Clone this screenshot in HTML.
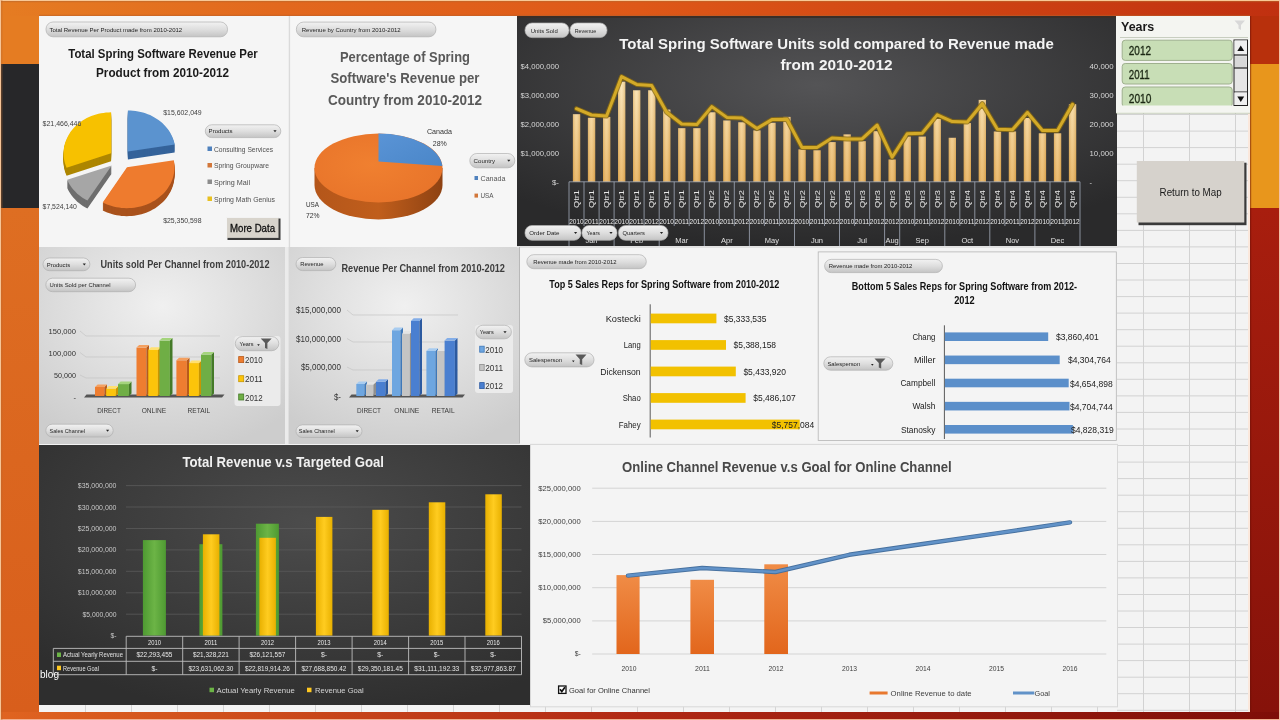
<!DOCTYPE html><html><head><meta charset="utf-8"><style>html,body{margin:0;padding:0;background:#f3f3f3;overflow:hidden;width:1280px;height:720px;}svg{display:block;}text{font-family:'Liberation Sans', Arial, sans-serif;}</style></head><body>
<svg width="1280" height="720" viewBox="0 0 1280 720">
<defs>
<linearGradient id="topband" x1="0" y1="0" x2="1" y2="0">
 <stop offset="0" stop-color="#e57c22"/><stop offset="0.22" stop-color="#e2681e"/><stop offset="0.5" stop-color="#de5818"/><stop offset="0.8" stop-color="#cc4012"/><stop offset="1" stop-color="#c03010"/>
</linearGradient>
<linearGradient id="botband" x1="0" y1="0" x2="1" y2="0">
 <stop offset="0" stop-color="#e06420"/><stop offset="0.5" stop-color="#b02814"/><stop offset="1" stop-color="#7e0e08"/>
</linearGradient>
<linearGradient id="leftlow" x1="0" y1="0" x2="0" y2="1">
 <stop offset="0" stop-color="#de6e22"/><stop offset="1" stop-color="#d85e1c"/>
</linearGradient>
<linearGradient id="rightlow" x1="0" y1="0" x2="0" y2="1">
 <stop offset="0" stop-color="#a81e0e"/><stop offset="1" stop-color="#86120a"/>
</linearGradient>
<linearGradient id="pillg" x1="0" y1="0" x2="0" y2="1">
 <stop offset="0" stop-color="#f2f2f2"/><stop offset="0.5" stop-color="#dedede"/><stop offset="1" stop-color="#c4c4c4"/>
</linearGradient>
<radialGradient id="darkg" cx="0.5" cy="0.3" r="0.7">
 <stop offset="0" stop-color="#545456"/><stop offset="1" stop-color="#2a2a2b"/>
</radialGradient>
<radialGradient id="dark8" cx="0.55" cy="0.3" r="0.75">
 <stop offset="0" stop-color="#4c4c4c"/><stop offset="1" stop-color="#2e2e2e"/>
</radialGradient>
<radialGradient id="grayg" cx="0.5" cy="0.3" r="0.75">
 <stop offset="0" stop-color="#f0f0f0"/><stop offset="1" stop-color="#cdcdcd"/>
</radialGradient>
<linearGradient id="barv" gradientUnits="userSpaceOnUse" x1="0" y1="80" x2="0" y2="182">
 <stop offset="0" stop-color="#fbe5b4"/><stop offset="1" stop-color="#e8b25c"/>
</linearGradient>
<linearGradient id="barh" x1="0" y1="0" x2="1" y2="0">
 <stop offset="0" stop-color="#a86a10" stop-opacity="0.28"/><stop offset="0.45" stop-color="#ffffff" stop-opacity="0.12"/><stop offset="1" stop-color="#a86a10" stop-opacity="0.3"/>
</linearGradient>
</defs>
<rect x="0" y="0" width="1280" height="720" fill="#f3f3f3"/>
<rect x="0" y="0" width="39" height="64" fill="#e57c22"/>
<rect x="0" y="64" width="39" height="144" fill="#272729"/>
<rect x="0" y="208" width="39" height="504" fill="url(#leftlow)"/>
<rect x="1250" y="0" width="30" height="64" fill="#b8300c"/>
<rect x="1250" y="64" width="30" height="144" fill="#e8961c"/>
<rect x="1250" y="208" width="30" height="504" fill="url(#rightlow)"/>
<rect x="1248" y="16" width="2" height="696" fill="#fbe8dc"/>
<rect x="0" y="0" width="1280" height="16" fill="url(#topband)"/>
<rect x="0" y="712" width="1280" height="8" fill="url(#botband)"/>
<rect x="0" y="0" width="1280" height="1" fill="#f8c896"/>
<rect x="0" y="1" width="1280" height="1.2" fill="#b8682e" opacity="0.55"/>
<rect x="39" y="14.8" width="1211" height="1.2" fill="#b8602a" opacity="0.5"/>
<rect x="0" y="719" width="1280" height="1" fill="#f0b090"/>
<rect x="0" y="0" width="1" height="720" fill="#f6c496"/>
<rect x="1" y="0" width="1.5" height="720" fill="#b86a30" opacity="0.35"/>
<rect x="1279" y="0" width="1" height="720" fill="#f4c0a8"/>
<rect x="1250" y="16" width="1.2" height="696" fill="#6a1008" opacity="0.5"/>
<g stroke="#d2d2d2" stroke-width="1">
<line x1="1117" y1="114.5" x2="1248" y2="114.5"/>
<line x1="1117" y1="131.1" x2="1248" y2="131.1"/>
<line x1="1117" y1="147.6" x2="1248" y2="147.6"/>
<line x1="1117" y1="164.2" x2="1248" y2="164.2"/>
<line x1="1117" y1="180.7" x2="1248" y2="180.7"/>
<line x1="1117" y1="197.3" x2="1248" y2="197.3"/>
<line x1="1117" y1="213.8" x2="1248" y2="213.8"/>
<line x1="1117" y1="230.4" x2="1248" y2="230.4"/>
<line x1="1117" y1="246.9" x2="1248" y2="246.9"/>
<line x1="1117" y1="263.5" x2="1248" y2="263.5"/>
<line x1="1117" y1="280.0" x2="1248" y2="280.0"/>
<line x1="1117" y1="296.6" x2="1248" y2="296.6"/>
<line x1="1117" y1="313.1" x2="1248" y2="313.1"/>
<line x1="1117" y1="329.7" x2="1248" y2="329.7"/>
<line x1="1117" y1="346.2" x2="1248" y2="346.2"/>
<line x1="1117" y1="362.8" x2="1248" y2="362.8"/>
<line x1="1117" y1="379.3" x2="1248" y2="379.3"/>
<line x1="1117" y1="395.9" x2="1248" y2="395.9"/>
<line x1="1117" y1="412.4" x2="1248" y2="412.4"/>
<line x1="1117" y1="429.0" x2="1248" y2="429.0"/>
<line x1="1117" y1="445.5" x2="1248" y2="445.5"/>
<line x1="1117" y1="462.1" x2="1248" y2="462.1"/>
<line x1="1117" y1="478.6" x2="1248" y2="478.6"/>
<line x1="1117" y1="495.2" x2="1248" y2="495.2"/>
<line x1="1117" y1="511.7" x2="1248" y2="511.7"/>
<line x1="1117" y1="528.3" x2="1248" y2="528.3"/>
<line x1="1117" y1="544.8" x2="1248" y2="544.8"/>
<line x1="1117" y1="561.4" x2="1248" y2="561.4"/>
<line x1="1117" y1="577.9" x2="1248" y2="577.9"/>
<line x1="1117" y1="594.5" x2="1248" y2="594.5"/>
<line x1="1117" y1="611.0" x2="1248" y2="611.0"/>
<line x1="1117" y1="627.5" x2="1248" y2="627.5"/>
<line x1="1117" y1="644.1" x2="1248" y2="644.1"/>
<line x1="1117" y1="660.6" x2="1248" y2="660.6"/>
<line x1="1117" y1="677.2" x2="1248" y2="677.2"/>
<line x1="1117" y1="693.7" x2="1248" y2="693.7"/>
<line x1="1117" y1="710.3" x2="1248" y2="710.3"/>
<line x1="1143.5" y1="113" x2="1143.5" y2="712"/>
<line x1="1189.5" y1="113" x2="1189.5" y2="712"/>
<line x1="1235.5" y1="113" x2="1235.5" y2="712"/>
</g>
<rect x="39" y="16" width="251" height="231" fill="#f5f5f5"/>
<line x1="289.5" y1="16" x2="289.5" y2="247" stroke="#dadada" stroke-width="1.5"/>
<rect x="46" y="22" width="181.5" height="14.8" rx="7" fill="url(#pillg)" stroke="#b0b0b0" stroke-width="0.7"/>
<text x="49.4" y="31.6" font-size="6" fill="#1e1e1e" text-anchor="start" textLength="132.8" lengthAdjust="spacingAndGlyphs">Total Revenue Per Product made from 2010-2012</text>
<text x="163" y="58" font-size="13.5" fill="#1a1a1a" font-weight="bold" text-anchor="middle" textLength="189.5" lengthAdjust="spacingAndGlyphs">Total Spring Software Revenue Per</text>
<text x="162.5" y="76.9" font-size="13.5" fill="#1a1a1a" font-weight="bold" text-anchor="middle" textLength="133" lengthAdjust="spacingAndGlyphs">Product from 2010-2012</text>
<path d="M127.9 151.4 L127.9 110.4 L130.5 110.5 L133.0 110.7 L135.6 110.9 L138.1 111.4 L140.6 111.9 L143.0 112.5 L145.4 113.3 L147.8 114.2 L150.1 115.1 L152.3 116.2 L154.5 117.4 L156.5 118.7 L158.5 120.1 L160.5 121.5 L162.3 123.1 L164.0 124.7 L165.6 126.5 L167.1 128.2 L168.5 130.1 L169.8 132.0 L170.9 134.0 L171.9 136.0 L172.8 138.1 L173.6 140.2 L174.2 142.3 L174.7 144.5 Z" fill="#35639a" transform="translate(0 8)"/>
<path d="M127.9 151.4 L127.9 110.4 L130.5 110.5 L133.0 110.7 L135.6 110.9 L138.1 111.4 L140.6 111.9 L143.0 112.5 L145.4 113.3 L147.8 114.2 L150.1 115.1 L152.3 116.2 L154.5 117.4 L156.5 118.7 L158.5 120.1 L160.5 121.5 L162.3 123.1 L164.0 124.7 L165.6 126.5 L167.1 128.2 L168.5 130.1 L169.8 132.0 L170.9 134.0 L171.9 136.0 L172.8 138.1 L173.6 140.2 L174.2 142.3 L174.7 144.5 Z" fill="#35639a" transform="translate(0 7)"/>
<path d="M127.9 151.4 L127.9 110.4 L130.5 110.5 L133.0 110.7 L135.6 110.9 L138.1 111.4 L140.6 111.9 L143.0 112.5 L145.4 113.3 L147.8 114.2 L150.1 115.1 L152.3 116.2 L154.5 117.4 L156.5 118.7 L158.5 120.1 L160.5 121.5 L162.3 123.1 L164.0 124.7 L165.6 126.5 L167.1 128.2 L168.5 130.1 L169.8 132.0 L170.9 134.0 L171.9 136.0 L172.8 138.1 L173.6 140.2 L174.2 142.3 L174.7 144.5 Z" fill="#35639a" transform="translate(0 6)"/>
<path d="M127.9 151.4 L127.9 110.4 L130.5 110.5 L133.0 110.7 L135.6 110.9 L138.1 111.4 L140.6 111.9 L143.0 112.5 L145.4 113.3 L147.8 114.2 L150.1 115.1 L152.3 116.2 L154.5 117.4 L156.5 118.7 L158.5 120.1 L160.5 121.5 L162.3 123.1 L164.0 124.7 L165.6 126.5 L167.1 128.2 L168.5 130.1 L169.8 132.0 L170.9 134.0 L171.9 136.0 L172.8 138.1 L173.6 140.2 L174.2 142.3 L174.7 144.5 Z" fill="#35639a" transform="translate(0 5)"/>
<path d="M127.9 151.4 L127.9 110.4 L130.5 110.5 L133.0 110.7 L135.6 110.9 L138.1 111.4 L140.6 111.9 L143.0 112.5 L145.4 113.3 L147.8 114.2 L150.1 115.1 L152.3 116.2 L154.5 117.4 L156.5 118.7 L158.5 120.1 L160.5 121.5 L162.3 123.1 L164.0 124.7 L165.6 126.5 L167.1 128.2 L168.5 130.1 L169.8 132.0 L170.9 134.0 L171.9 136.0 L172.8 138.1 L173.6 140.2 L174.2 142.3 L174.7 144.5 Z" fill="#35639a" transform="translate(0 4)"/>
<path d="M127.9 151.4 L127.9 110.4 L130.5 110.5 L133.0 110.7 L135.6 110.9 L138.1 111.4 L140.6 111.9 L143.0 112.5 L145.4 113.3 L147.8 114.2 L150.1 115.1 L152.3 116.2 L154.5 117.4 L156.5 118.7 L158.5 120.1 L160.5 121.5 L162.3 123.1 L164.0 124.7 L165.6 126.5 L167.1 128.2 L168.5 130.1 L169.8 132.0 L170.9 134.0 L171.9 136.0 L172.8 138.1 L173.6 140.2 L174.2 142.3 L174.7 144.5 Z" fill="#35639a" transform="translate(0 3)"/>
<path d="M127.9 151.4 L127.9 110.4 L130.5 110.5 L133.0 110.7 L135.6 110.9 L138.1 111.4 L140.6 111.9 L143.0 112.5 L145.4 113.3 L147.8 114.2 L150.1 115.1 L152.3 116.2 L154.5 117.4 L156.5 118.7 L158.5 120.1 L160.5 121.5 L162.3 123.1 L164.0 124.7 L165.6 126.5 L167.1 128.2 L168.5 130.1 L169.8 132.0 L170.9 134.0 L171.9 136.0 L172.8 138.1 L173.6 140.2 L174.2 142.3 L174.7 144.5 Z" fill="#35639a" transform="translate(0 2)"/>
<path d="M127.9 151.4 L127.9 110.4 L130.5 110.5 L133.0 110.7 L135.6 110.9 L138.1 111.4 L140.6 111.9 L143.0 112.5 L145.4 113.3 L147.8 114.2 L150.1 115.1 L152.3 116.2 L154.5 117.4 L156.5 118.7 L158.5 120.1 L160.5 121.5 L162.3 123.1 L164.0 124.7 L165.6 126.5 L167.1 128.2 L168.5 130.1 L169.8 132.0 L170.9 134.0 L171.9 136.0 L172.8 138.1 L173.6 140.2 L174.2 142.3 L174.7 144.5 Z" fill="#35639a" transform="translate(0 1)"/>
<path d="M127.9 151.4 L127.9 110.4 L130.5 110.5 L133.0 110.7 L135.6 110.9 L138.1 111.4 L140.6 111.9 L143.0 112.5 L145.4 113.3 L147.8 114.2 L150.1 115.1 L152.3 116.2 L154.5 117.4 L156.5 118.7 L158.5 120.1 L160.5 121.5 L162.3 123.1 L164.0 124.7 L165.6 126.5 L167.1 128.2 L168.5 130.1 L169.8 132.0 L170.9 134.0 L171.9 136.0 L172.8 138.1 L173.6 140.2 L174.2 142.3 L174.7 144.5 Z" fill="#5b93cf"/>
<path d="M111.1 153.3 L66.6 167.7 L65.7 165.6 L65.0 163.5 L64.5 161.4 L64.0 159.2 L63.7 157.0 L63.6 154.8 L63.6 152.6 L63.7 150.4 L63.9 148.2 L64.3 146.1 L64.8 143.9 L65.5 141.8 L66.3 139.7 L67.2 137.7 L68.2 135.7 L69.4 133.7 L70.6 131.8 L72.0 130.0 L73.5 128.2 L75.1 126.5 L76.9 124.9 L78.7 123.3 L80.6 121.9 L82.6 120.5 L84.7 119.3 L86.8 118.1 L89.0 117.0 L91.3 116.0 L93.7 115.2 L96.0 114.4 L98.5 113.8 L101.0 113.3 L103.5 112.9 L106.0 112.6 L108.5 112.4 L111.1 112.3 Z" fill="#ad8600" transform="translate(0 8)"/>
<path d="M111.1 153.3 L66.6 167.7 L65.7 165.6 L65.0 163.5 L64.5 161.4 L64.0 159.2 L63.7 157.0 L63.6 154.8 L63.6 152.6 L63.7 150.4 L63.9 148.2 L64.3 146.1 L64.8 143.9 L65.5 141.8 L66.3 139.7 L67.2 137.7 L68.2 135.7 L69.4 133.7 L70.6 131.8 L72.0 130.0 L73.5 128.2 L75.1 126.5 L76.9 124.9 L78.7 123.3 L80.6 121.9 L82.6 120.5 L84.7 119.3 L86.8 118.1 L89.0 117.0 L91.3 116.0 L93.7 115.2 L96.0 114.4 L98.5 113.8 L101.0 113.3 L103.5 112.9 L106.0 112.6 L108.5 112.4 L111.1 112.3 Z" fill="#ad8600" transform="translate(0 7)"/>
<path d="M111.1 153.3 L66.6 167.7 L65.7 165.6 L65.0 163.5 L64.5 161.4 L64.0 159.2 L63.7 157.0 L63.6 154.8 L63.6 152.6 L63.7 150.4 L63.9 148.2 L64.3 146.1 L64.8 143.9 L65.5 141.8 L66.3 139.7 L67.2 137.7 L68.2 135.7 L69.4 133.7 L70.6 131.8 L72.0 130.0 L73.5 128.2 L75.1 126.5 L76.9 124.9 L78.7 123.3 L80.6 121.9 L82.6 120.5 L84.7 119.3 L86.8 118.1 L89.0 117.0 L91.3 116.0 L93.7 115.2 L96.0 114.4 L98.5 113.8 L101.0 113.3 L103.5 112.9 L106.0 112.6 L108.5 112.4 L111.1 112.3 Z" fill="#ad8600" transform="translate(0 6)"/>
<path d="M111.1 153.3 L66.6 167.7 L65.7 165.6 L65.0 163.5 L64.5 161.4 L64.0 159.2 L63.7 157.0 L63.6 154.8 L63.6 152.6 L63.7 150.4 L63.9 148.2 L64.3 146.1 L64.8 143.9 L65.5 141.8 L66.3 139.7 L67.2 137.7 L68.2 135.7 L69.4 133.7 L70.6 131.8 L72.0 130.0 L73.5 128.2 L75.1 126.5 L76.9 124.9 L78.7 123.3 L80.6 121.9 L82.6 120.5 L84.7 119.3 L86.8 118.1 L89.0 117.0 L91.3 116.0 L93.7 115.2 L96.0 114.4 L98.5 113.8 L101.0 113.3 L103.5 112.9 L106.0 112.6 L108.5 112.4 L111.1 112.3 Z" fill="#ad8600" transform="translate(0 5)"/>
<path d="M111.1 153.3 L66.6 167.7 L65.7 165.6 L65.0 163.5 L64.5 161.4 L64.0 159.2 L63.7 157.0 L63.6 154.8 L63.6 152.6 L63.7 150.4 L63.9 148.2 L64.3 146.1 L64.8 143.9 L65.5 141.8 L66.3 139.7 L67.2 137.7 L68.2 135.7 L69.4 133.7 L70.6 131.8 L72.0 130.0 L73.5 128.2 L75.1 126.5 L76.9 124.9 L78.7 123.3 L80.6 121.9 L82.6 120.5 L84.7 119.3 L86.8 118.1 L89.0 117.0 L91.3 116.0 L93.7 115.2 L96.0 114.4 L98.5 113.8 L101.0 113.3 L103.5 112.9 L106.0 112.6 L108.5 112.4 L111.1 112.3 Z" fill="#ad8600" transform="translate(0 4)"/>
<path d="M111.1 153.3 L66.6 167.7 L65.7 165.6 L65.0 163.5 L64.5 161.4 L64.0 159.2 L63.7 157.0 L63.6 154.8 L63.6 152.6 L63.7 150.4 L63.9 148.2 L64.3 146.1 L64.8 143.9 L65.5 141.8 L66.3 139.7 L67.2 137.7 L68.2 135.7 L69.4 133.7 L70.6 131.8 L72.0 130.0 L73.5 128.2 L75.1 126.5 L76.9 124.9 L78.7 123.3 L80.6 121.9 L82.6 120.5 L84.7 119.3 L86.8 118.1 L89.0 117.0 L91.3 116.0 L93.7 115.2 L96.0 114.4 L98.5 113.8 L101.0 113.3 L103.5 112.9 L106.0 112.6 L108.5 112.4 L111.1 112.3 Z" fill="#ad8600" transform="translate(0 3)"/>
<path d="M111.1 153.3 L66.6 167.7 L65.7 165.6 L65.0 163.5 L64.5 161.4 L64.0 159.2 L63.7 157.0 L63.6 154.8 L63.6 152.6 L63.7 150.4 L63.9 148.2 L64.3 146.1 L64.8 143.9 L65.5 141.8 L66.3 139.7 L67.2 137.7 L68.2 135.7 L69.4 133.7 L70.6 131.8 L72.0 130.0 L73.5 128.2 L75.1 126.5 L76.9 124.9 L78.7 123.3 L80.6 121.9 L82.6 120.5 L84.7 119.3 L86.8 118.1 L89.0 117.0 L91.3 116.0 L93.7 115.2 L96.0 114.4 L98.5 113.8 L101.0 113.3 L103.5 112.9 L106.0 112.6 L108.5 112.4 L111.1 112.3 Z" fill="#ad8600" transform="translate(0 2)"/>
<path d="M111.1 153.3 L66.6 167.7 L65.7 165.6 L65.0 163.5 L64.5 161.4 L64.0 159.2 L63.7 157.0 L63.6 154.8 L63.6 152.6 L63.7 150.4 L63.9 148.2 L64.3 146.1 L64.8 143.9 L65.5 141.8 L66.3 139.7 L67.2 137.7 L68.2 135.7 L69.4 133.7 L70.6 131.8 L72.0 130.0 L73.5 128.2 L75.1 126.5 L76.9 124.9 L78.7 123.3 L80.6 121.9 L82.6 120.5 L84.7 119.3 L86.8 118.1 L89.0 117.0 L91.3 116.0 L93.7 115.2 L96.0 114.4 L98.5 113.8 L101.0 113.3 L103.5 112.9 L106.0 112.6 L108.5 112.4 L111.1 112.3 Z" fill="#ad8600" transform="translate(0 1)"/>
<path d="M111.1 153.3 L66.6 167.7 L65.7 165.6 L65.0 163.5 L64.5 161.4 L64.0 159.2 L63.7 157.0 L63.6 154.8 L63.6 152.6 L63.7 150.4 L63.9 148.2 L64.3 146.1 L64.8 143.9 L65.5 141.8 L66.3 139.7 L67.2 137.7 L68.2 135.7 L69.4 133.7 L70.6 131.8 L72.0 130.0 L73.5 128.2 L75.1 126.5 L76.9 124.9 L78.7 123.3 L80.6 121.9 L82.6 120.5 L84.7 119.3 L86.8 118.1 L89.0 117.0 L91.3 116.0 L93.7 115.2 L96.0 114.4 L98.5 113.8 L101.0 113.3 L103.5 112.9 L106.0 112.6 L108.5 112.4 L111.1 112.3 Z" fill="#f7c100"/>
<path d="M111.7 165.4 L87.4 200.6 L85.1 199.3 L82.9 198.0 L80.8 196.6 L78.9 195.0 L77.0 193.4 L75.2 191.6 L73.5 189.8 L72.0 187.9 L70.6 186.0 L69.3 183.9 L68.2 181.9 L67.2 179.7 Z" fill="#6e6e6e" transform="translate(0 8)"/>
<path d="M111.7 165.4 L87.4 200.6 L85.1 199.3 L82.9 198.0 L80.8 196.6 L78.9 195.0 L77.0 193.4 L75.2 191.6 L73.5 189.8 L72.0 187.9 L70.6 186.0 L69.3 183.9 L68.2 181.9 L67.2 179.7 Z" fill="#6e6e6e" transform="translate(0 7)"/>
<path d="M111.7 165.4 L87.4 200.6 L85.1 199.3 L82.9 198.0 L80.8 196.6 L78.9 195.0 L77.0 193.4 L75.2 191.6 L73.5 189.8 L72.0 187.9 L70.6 186.0 L69.3 183.9 L68.2 181.9 L67.2 179.7 Z" fill="#6e6e6e" transform="translate(0 6)"/>
<path d="M111.7 165.4 L87.4 200.6 L85.1 199.3 L82.9 198.0 L80.8 196.6 L78.9 195.0 L77.0 193.4 L75.2 191.6 L73.5 189.8 L72.0 187.9 L70.6 186.0 L69.3 183.9 L68.2 181.9 L67.2 179.7 Z" fill="#6e6e6e" transform="translate(0 5)"/>
<path d="M111.7 165.4 L87.4 200.6 L85.1 199.3 L82.9 198.0 L80.8 196.6 L78.9 195.0 L77.0 193.4 L75.2 191.6 L73.5 189.8 L72.0 187.9 L70.6 186.0 L69.3 183.9 L68.2 181.9 L67.2 179.7 Z" fill="#6e6e6e" transform="translate(0 4)"/>
<path d="M111.7 165.4 L87.4 200.6 L85.1 199.3 L82.9 198.0 L80.8 196.6 L78.9 195.0 L77.0 193.4 L75.2 191.6 L73.5 189.8 L72.0 187.9 L70.6 186.0 L69.3 183.9 L68.2 181.9 L67.2 179.7 Z" fill="#6e6e6e" transform="translate(0 3)"/>
<path d="M111.7 165.4 L87.4 200.6 L85.1 199.3 L82.9 198.0 L80.8 196.6 L78.9 195.0 L77.0 193.4 L75.2 191.6 L73.5 189.8 L72.0 187.9 L70.6 186.0 L69.3 183.9 L68.2 181.9 L67.2 179.7 Z" fill="#6e6e6e" transform="translate(0 2)"/>
<path d="M111.7 165.4 L87.4 200.6 L85.1 199.3 L82.9 198.0 L80.8 196.6 L78.9 195.0 L77.0 193.4 L75.2 191.6 L73.5 189.8 L72.0 187.9 L70.6 186.0 L69.3 183.9 L68.2 181.9 L67.2 179.7 Z" fill="#6e6e6e" transform="translate(0 1)"/>
<path d="M111.7 165.4 L87.4 200.6 L85.1 199.3 L82.9 198.0 L80.8 196.6 L78.9 195.0 L77.0 193.4 L75.2 191.6 L73.5 189.8 L72.0 187.9 L70.6 186.0 L69.3 183.9 L68.2 181.9 L67.2 179.7 Z" fill="#a6a6a6"/>
<path d="M127.0 167.2 L173.8 160.3 L174.2 162.4 L174.4 164.6 L174.5 166.8 L174.5 168.9 L174.3 171.1 L174.0 173.3 L173.5 175.4 L173.0 177.5 L172.3 179.6 L171.5 181.6 L170.5 183.7 L169.4 185.6 L168.2 187.5 L166.9 189.4 L165.5 191.2 L164.0 192.9 L162.4 194.6 L160.6 196.1 L158.8 197.6 L156.9 199.0 L154.9 200.4 L152.8 201.6 L150.7 202.7 L148.5 203.8 L146.2 204.7 L143.9 205.5 L141.5 206.2 L139.1 206.8 L136.6 207.3 L134.2 207.7 L131.7 208.0 L129.2 208.1 L126.6 208.2 L124.1 208.1 L121.6 207.9 L119.1 207.6 L116.7 207.2 L114.2 206.7 L111.8 206.0 L109.5 205.3 L107.1 204.4 L104.9 203.5 L102.7 202.4 Z" fill="#a9521c" transform="translate(0 8)"/>
<path d="M127.0 167.2 L173.8 160.3 L174.2 162.4 L174.4 164.6 L174.5 166.8 L174.5 168.9 L174.3 171.1 L174.0 173.3 L173.5 175.4 L173.0 177.5 L172.3 179.6 L171.5 181.6 L170.5 183.7 L169.4 185.6 L168.2 187.5 L166.9 189.4 L165.5 191.2 L164.0 192.9 L162.4 194.6 L160.6 196.1 L158.8 197.6 L156.9 199.0 L154.9 200.4 L152.8 201.6 L150.7 202.7 L148.5 203.8 L146.2 204.7 L143.9 205.5 L141.5 206.2 L139.1 206.8 L136.6 207.3 L134.2 207.7 L131.7 208.0 L129.2 208.1 L126.6 208.2 L124.1 208.1 L121.6 207.9 L119.1 207.6 L116.7 207.2 L114.2 206.7 L111.8 206.0 L109.5 205.3 L107.1 204.4 L104.9 203.5 L102.7 202.4 Z" fill="#a9521c" transform="translate(0 7)"/>
<path d="M127.0 167.2 L173.8 160.3 L174.2 162.4 L174.4 164.6 L174.5 166.8 L174.5 168.9 L174.3 171.1 L174.0 173.3 L173.5 175.4 L173.0 177.5 L172.3 179.6 L171.5 181.6 L170.5 183.7 L169.4 185.6 L168.2 187.5 L166.9 189.4 L165.5 191.2 L164.0 192.9 L162.4 194.6 L160.6 196.1 L158.8 197.6 L156.9 199.0 L154.9 200.4 L152.8 201.6 L150.7 202.7 L148.5 203.8 L146.2 204.7 L143.9 205.5 L141.5 206.2 L139.1 206.8 L136.6 207.3 L134.2 207.7 L131.7 208.0 L129.2 208.1 L126.6 208.2 L124.1 208.1 L121.6 207.9 L119.1 207.6 L116.7 207.2 L114.2 206.7 L111.8 206.0 L109.5 205.3 L107.1 204.4 L104.9 203.5 L102.7 202.4 Z" fill="#a9521c" transform="translate(0 6)"/>
<path d="M127.0 167.2 L173.8 160.3 L174.2 162.4 L174.4 164.6 L174.5 166.8 L174.5 168.9 L174.3 171.1 L174.0 173.3 L173.5 175.4 L173.0 177.5 L172.3 179.6 L171.5 181.6 L170.5 183.7 L169.4 185.6 L168.2 187.5 L166.9 189.4 L165.5 191.2 L164.0 192.9 L162.4 194.6 L160.6 196.1 L158.8 197.6 L156.9 199.0 L154.9 200.4 L152.8 201.6 L150.7 202.7 L148.5 203.8 L146.2 204.7 L143.9 205.5 L141.5 206.2 L139.1 206.8 L136.6 207.3 L134.2 207.7 L131.7 208.0 L129.2 208.1 L126.6 208.2 L124.1 208.1 L121.6 207.9 L119.1 207.6 L116.7 207.2 L114.2 206.7 L111.8 206.0 L109.5 205.3 L107.1 204.4 L104.9 203.5 L102.7 202.4 Z" fill="#a9521c" transform="translate(0 5)"/>
<path d="M127.0 167.2 L173.8 160.3 L174.2 162.4 L174.4 164.6 L174.5 166.8 L174.5 168.9 L174.3 171.1 L174.0 173.3 L173.5 175.4 L173.0 177.5 L172.3 179.6 L171.5 181.6 L170.5 183.7 L169.4 185.6 L168.2 187.5 L166.9 189.4 L165.5 191.2 L164.0 192.9 L162.4 194.6 L160.6 196.1 L158.8 197.6 L156.9 199.0 L154.9 200.4 L152.8 201.6 L150.7 202.7 L148.5 203.8 L146.2 204.7 L143.9 205.5 L141.5 206.2 L139.1 206.8 L136.6 207.3 L134.2 207.7 L131.7 208.0 L129.2 208.1 L126.6 208.2 L124.1 208.1 L121.6 207.9 L119.1 207.6 L116.7 207.2 L114.2 206.7 L111.8 206.0 L109.5 205.3 L107.1 204.4 L104.9 203.5 L102.7 202.4 Z" fill="#a9521c" transform="translate(0 4)"/>
<path d="M127.0 167.2 L173.8 160.3 L174.2 162.4 L174.4 164.6 L174.5 166.8 L174.5 168.9 L174.3 171.1 L174.0 173.3 L173.5 175.4 L173.0 177.5 L172.3 179.6 L171.5 181.6 L170.5 183.7 L169.4 185.6 L168.2 187.5 L166.9 189.4 L165.5 191.2 L164.0 192.9 L162.4 194.6 L160.6 196.1 L158.8 197.6 L156.9 199.0 L154.9 200.4 L152.8 201.6 L150.7 202.7 L148.5 203.8 L146.2 204.7 L143.9 205.5 L141.5 206.2 L139.1 206.8 L136.6 207.3 L134.2 207.7 L131.7 208.0 L129.2 208.1 L126.6 208.2 L124.1 208.1 L121.6 207.9 L119.1 207.6 L116.7 207.2 L114.2 206.7 L111.8 206.0 L109.5 205.3 L107.1 204.4 L104.9 203.5 L102.7 202.4 Z" fill="#a9521c" transform="translate(0 3)"/>
<path d="M127.0 167.2 L173.8 160.3 L174.2 162.4 L174.4 164.6 L174.5 166.8 L174.5 168.9 L174.3 171.1 L174.0 173.3 L173.5 175.4 L173.0 177.5 L172.3 179.6 L171.5 181.6 L170.5 183.7 L169.4 185.6 L168.2 187.5 L166.9 189.4 L165.5 191.2 L164.0 192.9 L162.4 194.6 L160.6 196.1 L158.8 197.6 L156.9 199.0 L154.9 200.4 L152.8 201.6 L150.7 202.7 L148.5 203.8 L146.2 204.7 L143.9 205.5 L141.5 206.2 L139.1 206.8 L136.6 207.3 L134.2 207.7 L131.7 208.0 L129.2 208.1 L126.6 208.2 L124.1 208.1 L121.6 207.9 L119.1 207.6 L116.7 207.2 L114.2 206.7 L111.8 206.0 L109.5 205.3 L107.1 204.4 L104.9 203.5 L102.7 202.4 Z" fill="#a9521c" transform="translate(0 2)"/>
<path d="M127.0 167.2 L173.8 160.3 L174.2 162.4 L174.4 164.6 L174.5 166.8 L174.5 168.9 L174.3 171.1 L174.0 173.3 L173.5 175.4 L173.0 177.5 L172.3 179.6 L171.5 181.6 L170.5 183.7 L169.4 185.6 L168.2 187.5 L166.9 189.4 L165.5 191.2 L164.0 192.9 L162.4 194.6 L160.6 196.1 L158.8 197.6 L156.9 199.0 L154.9 200.4 L152.8 201.6 L150.7 202.7 L148.5 203.8 L146.2 204.7 L143.9 205.5 L141.5 206.2 L139.1 206.8 L136.6 207.3 L134.2 207.7 L131.7 208.0 L129.2 208.1 L126.6 208.2 L124.1 208.1 L121.6 207.9 L119.1 207.6 L116.7 207.2 L114.2 206.7 L111.8 206.0 L109.5 205.3 L107.1 204.4 L104.9 203.5 L102.7 202.4 Z" fill="#a9521c" transform="translate(0 1)"/>
<path d="M127.0 167.2 L173.8 160.3 L174.2 162.4 L174.4 164.6 L174.5 166.8 L174.5 168.9 L174.3 171.1 L174.0 173.3 L173.5 175.4 L173.0 177.5 L172.3 179.6 L171.5 181.6 L170.5 183.7 L169.4 185.6 L168.2 187.5 L166.9 189.4 L165.5 191.2 L164.0 192.9 L162.4 194.6 L160.6 196.1 L158.8 197.6 L156.9 199.0 L154.9 200.4 L152.8 201.6 L150.7 202.7 L148.5 203.8 L146.2 204.7 L143.9 205.5 L141.5 206.2 L139.1 206.8 L136.6 207.3 L134.2 207.7 L131.7 208.0 L129.2 208.1 L126.6 208.2 L124.1 208.1 L121.6 207.9 L119.1 207.6 L116.7 207.2 L114.2 206.7 L111.8 206.0 L109.5 205.3 L107.1 204.4 L104.9 203.5 L102.7 202.4 Z" fill="#ee7b2e"/>
<text x="163.2" y="115" font-size="7" fill="#404040" text-anchor="start" textLength="38.5" lengthAdjust="spacingAndGlyphs">$15,602,049</text>
<text x="42.6" y="126" font-size="7" fill="#404040" text-anchor="start" textLength="38.8" lengthAdjust="spacingAndGlyphs">$21,466,446</text>
<text x="42.6" y="209" font-size="7" fill="#404040" text-anchor="start" textLength="34.3" lengthAdjust="spacingAndGlyphs">$7,524,140</text>
<text x="163.2" y="222.5" font-size="7" fill="#404040" text-anchor="start" textLength="38.3" lengthAdjust="spacingAndGlyphs">$25,350,598</text>
<rect x="205.3" y="124.8" width="75.5" height="12.8" rx="6.399999999999999" fill="url(#pillg)" stroke="#b0b0b0" stroke-width="0.7"/>
<text x="208.6" y="133.4" font-size="6" fill="#1e1e1e" text-anchor="start" textLength="24" lengthAdjust="spacingAndGlyphs">Products</text>
<path d="M273.4 130.3 L276.6 130.3 L275.0 132.3 Z" fill="#222"/>
<rect x="207.5" y="146.5" width="4.5" height="4.5" fill="#4f81bd"/>
<text x="214" y="151.6" font-size="7.2" fill="#505050" text-anchor="start" textLength="59" lengthAdjust="spacingAndGlyphs">Consulting Services</text>
<rect x="207.5" y="163.0" width="4.5" height="4.5" fill="#d2773a"/>
<text x="214" y="168.1" font-size="7.2" fill="#505050" text-anchor="start" textLength="55" lengthAdjust="spacingAndGlyphs">Spring Groupware</text>
<rect x="207.5" y="179.5" width="4.5" height="4.5" fill="#8c8c8c"/>
<text x="214" y="184.6" font-size="7.2" fill="#505050" text-anchor="start" textLength="36" lengthAdjust="spacingAndGlyphs">Spring Mail</text>
<rect x="207.5" y="196.5" width="4.5" height="4.5" fill="#e8c020"/>
<text x="214" y="201.6" font-size="7.2" fill="#505050" text-anchor="start" textLength="61" lengthAdjust="spacingAndGlyphs">Spring Math Genius</text>
<rect x="227.5" y="218.5" width="53" height="21.5" fill="#3a3a3a"/>
<rect x="226.5" y="217.4" width="52" height="20.5" fill="#d8d4cc"/>
<path d="M226.5 237.9 L226.5 217.4 L278.5 217.4" stroke="#f4f4f4" stroke-width="1" fill="none"/>
<text x="252.5" y="232" font-size="10.2" fill="#111" text-anchor="middle" textLength="45" lengthAdjust="spacingAndGlyphs" stroke="#111" stroke-width="0.3">More Data</text>
<rect x="290.3" y="16" width="226.7" height="231" fill="#f6f6f6"/>
<rect x="296.4" y="22.1" width="139.5" height="14.7" rx="7" fill="url(#pillg)" stroke="#b0b0b0" stroke-width="0.7"/>
<text x="301.7" y="31.6" font-size="6" fill="#1e1e1e" text-anchor="start" textLength="99" lengthAdjust="spacingAndGlyphs">Revenue by Country from 2010-2012</text>
<text x="405" y="61.5" font-size="14.2" fill="#595959" font-weight="bold" text-anchor="middle" textLength="130" lengthAdjust="spacingAndGlyphs">Percentage of Spring</text>
<text x="405" y="83.2" font-size="14.2" fill="#595959" font-weight="bold" text-anchor="middle" textLength="149" lengthAdjust="spacingAndGlyphs">Software's Revenue per</text>
<text x="405" y="104.9" font-size="14.2" fill="#595959" font-weight="bold" text-anchor="middle" textLength="154" lengthAdjust="spacingAndGlyphs">Country from 2010-2012</text>
<defs><linearGradient id="side2" x1="0" y1="0" x2="1" y2="0"><stop offset="0" stop-color="#b4561a"/><stop offset="0.5" stop-color="#c05e1c"/><stop offset="1" stop-color="#8e4212"/></linearGradient><radialGradient id="top2" cx="0.45" cy="0.45" r="0.6"><stop offset="0" stop-color="#f08030"/><stop offset="1" stop-color="#e8742a"/></radialGradient><linearGradient id="blue2" x1="0" y1="0" x2="1" y2="1"><stop offset="0" stop-color="#5a94d6"/><stop offset="1" stop-color="#4a86c8"/></linearGradient></defs>
<path d="M314.5 168 L314.5 185 A64 34.5 0 0 0 442.5 185 L442.5 168 Z" fill="url(#side2)"/>
<ellipse cx="378.5" cy="168" rx="64" ry="34.5" fill="url(#top2)"/>
<path d="M378.5 161.5 L378.5 133.5 A64 34.5 0 0 1 442.3 166 Z" fill="url(#blue2)"/>
<text x="439.4" y="134.3" font-size="7.5" fill="#333" text-anchor="middle" textLength="25" lengthAdjust="spacingAndGlyphs">Canada</text>
<text x="439.8" y="146.3" font-size="7.5" fill="#333" text-anchor="middle" textLength="14" lengthAdjust="spacingAndGlyphs">28%</text>
<text x="312.5" y="206.8" font-size="7.5" fill="#333" text-anchor="middle" textLength="13" lengthAdjust="spacingAndGlyphs">USA</text>
<text x="312.8" y="218" font-size="7.5" fill="#333" text-anchor="middle" textLength="13.5" lengthAdjust="spacingAndGlyphs">72%</text>
<rect x="469.8" y="153.5" width="45.0" height="14.3" rx="7" fill="url(#pillg)" stroke="#b0b0b0" stroke-width="0.7"/>
<text x="473.6" y="162.8" font-size="6" fill="#1e1e1e" text-anchor="start" textLength="21.4" lengthAdjust="spacingAndGlyphs">Country</text>
<path d="M507.2 159.8 L510.4 159.8 L508.8 161.8 Z" fill="#222"/>
<rect x="474.5" y="176" width="3.5" height="4" fill="#4f81bd"/>
<text x="480.5" y="180.5" font-size="6.5" fill="#555" text-anchor="start" textLength="25" lengthAdjust="spacingAndGlyphs">Canada</text>
<rect x="474.5" y="193.6" width="3.5" height="4" fill="#d2773a"/>
<text x="480.5" y="198" font-size="6.5" fill="#555" text-anchor="start" textLength="13" lengthAdjust="spacingAndGlyphs">USA</text>
<rect x="517" y="16" width="600" height="230" fill="url(#darkg)"/>
<rect x="517" y="16" width="600" height="2" fill="#3a2e28"/>
<rect x="525" y="23" width="44.0" height="14.6" rx="7" fill="url(#pillg)" stroke="#b0b0b0" stroke-width="0.7"/>
<text x="530.7" y="32.5" font-size="6" fill="#1e1e1e" text-anchor="start" textLength="27" lengthAdjust="spacingAndGlyphs">Units Sold</text>
<rect x="570" y="23" width="37.0" height="14.6" rx="7" fill="url(#pillg)" stroke="#b0b0b0" stroke-width="0.7"/>
<text x="574.7" y="32.5" font-size="6" fill="#1e1e1e" text-anchor="start" textLength="21.6" lengthAdjust="spacingAndGlyphs">Revenue</text>
<text x="836.5" y="48.8" font-size="14.2" fill="#f4f4f4" font-weight="bold" text-anchor="middle" textLength="434.5" lengthAdjust="spacingAndGlyphs">Total Spring Software Units sold compared to Revenue made</text>
<text x="836.5" y="70" font-size="14.2" fill="#f4f4f4" font-weight="bold" text-anchor="middle" textLength="112" lengthAdjust="spacingAndGlyphs">from 2010-2012</text>
<text x="559" y="69.0" font-size="7" fill="#d8d8d8" text-anchor="end" textLength="38.5" lengthAdjust="spacingAndGlyphs">$4,000,000</text>
<text x="559" y="98.1" font-size="7" fill="#d8d8d8" text-anchor="end" textLength="38.5" lengthAdjust="spacingAndGlyphs">$3,000,000</text>
<text x="559" y="127.2" font-size="7" fill="#d8d8d8" text-anchor="end" textLength="38.5" lengthAdjust="spacingAndGlyphs">$2,000,000</text>
<text x="559" y="156.3" font-size="7" fill="#d8d8d8" text-anchor="end" textLength="38.5" lengthAdjust="spacingAndGlyphs">$1,000,000</text>
<text x="559" y="185.4" font-size="7" fill="#d8d8d8" text-anchor="end" textLength="7" lengthAdjust="spacingAndGlyphs">$-</text>
<text x="1089.5" y="69.0" font-size="7" fill="#d8d8d8" text-anchor="start" textLength="24" lengthAdjust="spacingAndGlyphs">40,000</text>
<text x="1089.5" y="98.1" font-size="7" fill="#d8d8d8" text-anchor="start" textLength="24" lengthAdjust="spacingAndGlyphs">30,000</text>
<text x="1089.5" y="127.2" font-size="7" fill="#d8d8d8" text-anchor="start" textLength="24" lengthAdjust="spacingAndGlyphs">20,000</text>
<text x="1089.5" y="156.3" font-size="7" fill="#d8d8d8" text-anchor="start" textLength="24" lengthAdjust="spacingAndGlyphs">10,000</text>
<text x="1089.5" y="185.4" font-size="7" fill="#d8d8d8" text-anchor="start" textLength="2.5" lengthAdjust="spacingAndGlyphs">-</text>
<rect x="572.9" y="114.2" width="7.3" height="67.6" fill="url(#barv)"/>
<rect x="572.9" y="114.2" width="7.3" height="67.6" fill="url(#barh)"/>
<rect x="587.9" y="117.8" width="7.3" height="64.0" fill="url(#barv)"/>
<rect x="587.9" y="117.8" width="7.3" height="64.0" fill="url(#barh)"/>
<rect x="603.0" y="116.9" width="7.3" height="64.9" fill="url(#barv)"/>
<rect x="603.0" y="116.9" width="7.3" height="64.9" fill="url(#barh)"/>
<rect x="618.0" y="81.7" width="7.3" height="100.1" fill="url(#barv)"/>
<rect x="618.0" y="81.7" width="7.3" height="100.1" fill="url(#barh)"/>
<rect x="633.0" y="90.3" width="7.3" height="91.5" fill="url(#barv)"/>
<rect x="633.0" y="90.3" width="7.3" height="91.5" fill="url(#barh)"/>
<rect x="648.1" y="90.3" width="7.3" height="91.5" fill="url(#barv)"/>
<rect x="648.1" y="90.3" width="7.3" height="91.5" fill="url(#barh)"/>
<rect x="663.1" y="109.6" width="7.3" height="72.2" fill="url(#barv)"/>
<rect x="663.1" y="109.6" width="7.3" height="72.2" fill="url(#barh)"/>
<rect x="678.1" y="128.2" width="7.3" height="53.6" fill="url(#barv)"/>
<rect x="678.1" y="128.2" width="7.3" height="53.6" fill="url(#barh)"/>
<rect x="693.2" y="128.2" width="7.3" height="53.6" fill="url(#barv)"/>
<rect x="693.2" y="128.2" width="7.3" height="53.6" fill="url(#barh)"/>
<rect x="708.2" y="112.3" width="7.3" height="69.5" fill="url(#barv)"/>
<rect x="708.2" y="112.3" width="7.3" height="69.5" fill="url(#barh)"/>
<rect x="723.2" y="120.5" width="7.3" height="61.3" fill="url(#barv)"/>
<rect x="723.2" y="120.5" width="7.3" height="61.3" fill="url(#barh)"/>
<rect x="738.2" y="122.3" width="7.3" height="59.5" fill="url(#barv)"/>
<rect x="738.2" y="122.3" width="7.3" height="59.5" fill="url(#barh)"/>
<rect x="753.3" y="130.4" width="7.3" height="51.4" fill="url(#barv)"/>
<rect x="753.3" y="130.4" width="7.3" height="51.4" fill="url(#barh)"/>
<rect x="768.3" y="122.8" width="7.3" height="59.0" fill="url(#barv)"/>
<rect x="768.3" y="122.8" width="7.3" height="59.0" fill="url(#barh)"/>
<rect x="783.3" y="116.9" width="7.3" height="64.9" fill="url(#barv)"/>
<rect x="783.3" y="116.9" width="7.3" height="64.9" fill="url(#barh)"/>
<rect x="798.4" y="149.4" width="7.3" height="32.4" fill="url(#barv)"/>
<rect x="798.4" y="149.4" width="7.3" height="32.4" fill="url(#barh)"/>
<rect x="813.4" y="150.3" width="7.3" height="31.5" fill="url(#barv)"/>
<rect x="813.4" y="150.3" width="7.3" height="31.5" fill="url(#barh)"/>
<rect x="828.4" y="142.1" width="7.3" height="39.7" fill="url(#barv)"/>
<rect x="828.4" y="142.1" width="7.3" height="39.7" fill="url(#barh)"/>
<rect x="843.5" y="134.4" width="7.3" height="47.4" fill="url(#barv)"/>
<rect x="843.5" y="134.4" width="7.3" height="47.4" fill="url(#barh)"/>
<rect x="858.5" y="141.2" width="7.3" height="40.6" fill="url(#barv)"/>
<rect x="858.5" y="141.2" width="7.3" height="40.6" fill="url(#barh)"/>
<rect x="873.5" y="131.2" width="7.3" height="50.6" fill="url(#barv)"/>
<rect x="873.5" y="131.2" width="7.3" height="50.6" fill="url(#barh)"/>
<rect x="888.5" y="159.5" width="7.3" height="22.3" fill="url(#barv)"/>
<rect x="888.5" y="159.5" width="7.3" height="22.3" fill="url(#barh)"/>
<rect x="903.6" y="136.6" width="7.3" height="45.2" fill="url(#barv)"/>
<rect x="903.6" y="136.6" width="7.3" height="45.2" fill="url(#barh)"/>
<rect x="918.6" y="136.6" width="7.3" height="45.2" fill="url(#barv)"/>
<rect x="918.6" y="136.6" width="7.3" height="45.2" fill="url(#barh)"/>
<rect x="933.6" y="119" width="7.3" height="62.8" fill="url(#barv)"/>
<rect x="933.6" y="119" width="7.3" height="62.8" fill="url(#barh)"/>
<rect x="948.7" y="137.8" width="7.3" height="44.0" fill="url(#barv)"/>
<rect x="948.7" y="137.8" width="7.3" height="44.0" fill="url(#barh)"/>
<rect x="963.7" y="123.1" width="7.3" height="58.7" fill="url(#barv)"/>
<rect x="963.7" y="123.1" width="7.3" height="58.7" fill="url(#barh)"/>
<rect x="978.7" y="99.9" width="7.3" height="81.9" fill="url(#barv)"/>
<rect x="978.7" y="99.9" width="7.3" height="81.9" fill="url(#barh)"/>
<rect x="993.8" y="131.5" width="7.3" height="50.3" fill="url(#barv)"/>
<rect x="993.8" y="131.5" width="7.3" height="50.3" fill="url(#barh)"/>
<rect x="1008.8" y="131.5" width="7.3" height="50.3" fill="url(#barv)"/>
<rect x="1008.8" y="131.5" width="7.3" height="50.3" fill="url(#barh)"/>
<rect x="1023.8" y="118" width="7.3" height="63.8" fill="url(#barv)"/>
<rect x="1023.8" y="118" width="7.3" height="63.8" fill="url(#barh)"/>
<rect x="1038.8" y="133.3" width="7.3" height="48.5" fill="url(#barv)"/>
<rect x="1038.8" y="133.3" width="7.3" height="48.5" fill="url(#barh)"/>
<rect x="1053.9" y="133.3" width="7.3" height="48.5" fill="url(#barv)"/>
<rect x="1053.9" y="133.3" width="7.3" height="48.5" fill="url(#barh)"/>
<rect x="1068.9" y="104.2" width="7.3" height="77.6" fill="url(#barv)"/>
<rect x="1068.9" y="104.2" width="7.3" height="77.6" fill="url(#barh)"/>
<polyline points="576.5,108.7 591.5,115 606.6,116 621.6,76.6 636.6,84.4 651.7,85.6 666.7,112.3 681.7,124 696.8,124.6 711.8,106.6 726.8,117.4 741.8,118.1 756.9,128.6 771.9,119.6 786.9,119.2 802.0,147.5 817.0,147.5 832.0,138 847.1,138.9 862.1,138.9 877.1,125.1 892.1,157.2 907.2,133.8 922.2,133.2 937.2,114.9 952.3,121.6 967.3,122 982.3,103.7 997.4,129.2 1012.4,129.8 1027.4,112.5 1042.4,130.5 1057.5,130.5 1072.5,104.2" fill="none" stroke="#8a6a10" stroke-width="5" stroke-linejoin="round" stroke-linecap="round" opacity="0.8"/>
<polyline points="576.5,108.7 591.5,115 606.6,116 621.6,76.6 636.6,84.4 651.7,85.6 666.7,112.3 681.7,124 696.8,124.6 711.8,106.6 726.8,117.4 741.8,118.1 756.9,128.6 771.9,119.6 786.9,119.2 802.0,147.5 817.0,147.5 832.0,138 847.1,138.9 862.1,138.9 877.1,125.1 892.1,157.2 907.2,133.8 922.2,133.2 937.2,114.9 952.3,121.6 967.3,122 982.3,103.7 997.4,129.2 1012.4,129.8 1027.4,112.5 1042.4,130.5 1057.5,130.5 1072.5,104.2" fill="none" stroke="#d4aa28" stroke-width="3" stroke-linejoin="round" stroke-linecap="round"/>
<g stroke="#aab2c2" stroke-width="0.75">
<line x1="569" y1="181.8" x2="1080.0" y2="181.8"/>
<line x1="569.0" y1="181.8" x2="569.0" y2="246"/>
<line x1="584.0" y1="181.8" x2="584.0" y2="226"/>
<line x1="599.1" y1="181.8" x2="599.1" y2="226"/>
<line x1="614.1" y1="181.8" x2="614.1" y2="246"/>
<line x1="629.1" y1="181.8" x2="629.1" y2="226"/>
<line x1="644.1" y1="181.8" x2="644.1" y2="226"/>
<line x1="659.2" y1="181.8" x2="659.2" y2="246"/>
<line x1="674.2" y1="181.8" x2="674.2" y2="226"/>
<line x1="689.2" y1="181.8" x2="689.2" y2="226"/>
<line x1="704.3" y1="181.8" x2="704.3" y2="246"/>
<line x1="719.3" y1="181.8" x2="719.3" y2="226"/>
<line x1="734.3" y1="181.8" x2="734.3" y2="226"/>
<line x1="749.4" y1="181.8" x2="749.4" y2="246"/>
<line x1="764.4" y1="181.8" x2="764.4" y2="226"/>
<line x1="779.4" y1="181.8" x2="779.4" y2="226"/>
<line x1="794.5" y1="181.8" x2="794.5" y2="246"/>
<line x1="809.5" y1="181.8" x2="809.5" y2="226"/>
<line x1="824.5" y1="181.8" x2="824.5" y2="226"/>
<line x1="839.5" y1="181.8" x2="839.5" y2="246"/>
<line x1="854.6" y1="181.8" x2="854.6" y2="226"/>
<line x1="869.6" y1="181.8" x2="869.6" y2="226"/>
<line x1="884.6" y1="181.8" x2="884.6" y2="246"/>
<line x1="899.7" y1="181.8" x2="899.7" y2="246"/>
<line x1="914.7" y1="181.8" x2="914.7" y2="226"/>
<line x1="929.7" y1="181.8" x2="929.7" y2="226"/>
<line x1="944.8" y1="181.8" x2="944.8" y2="246"/>
<line x1="959.8" y1="181.8" x2="959.8" y2="226"/>
<line x1="974.8" y1="181.8" x2="974.8" y2="226"/>
<line x1="989.8" y1="181.8" x2="989.8" y2="246"/>
<line x1="1004.9" y1="181.8" x2="1004.9" y2="226"/>
<line x1="1019.9" y1="181.8" x2="1019.9" y2="226"/>
<line x1="1034.9" y1="181.8" x2="1034.9" y2="246"/>
<line x1="1050.0" y1="181.8" x2="1050.0" y2="226"/>
<line x1="1065.0" y1="181.8" x2="1065.0" y2="226"/>
<line x1="1080.0" y1="181.8" x2="1080.0" y2="246"/>
</g>
<text x="576.5" y="208" font-size="7" fill="#e8e8e8" transform="rotate(-90 576.5 208)" dy="2.6" textLength="18" lengthAdjust="spacingAndGlyphs">Qtr1</text>
<text x="576.5" y="224.2" font-size="7.2" fill="#ececec" text-anchor="middle" textLength="14.5" lengthAdjust="spacingAndGlyphs">2010</text>
<text x="591.5" y="208" font-size="7" fill="#e8e8e8" transform="rotate(-90 591.5 208)" dy="2.6" textLength="18" lengthAdjust="spacingAndGlyphs">Qtr1</text>
<text x="591.5" y="224.2" font-size="7.2" fill="#ececec" text-anchor="middle" textLength="14.5" lengthAdjust="spacingAndGlyphs">2011</text>
<text x="606.6" y="208" font-size="7" fill="#e8e8e8" transform="rotate(-90 606.6 208)" dy="2.6" textLength="18" lengthAdjust="spacingAndGlyphs">Qtr1</text>
<text x="606.6" y="224.2" font-size="7.2" fill="#ececec" text-anchor="middle" textLength="14.5" lengthAdjust="spacingAndGlyphs">2012</text>
<text x="621.6" y="208" font-size="7" fill="#e8e8e8" transform="rotate(-90 621.6 208)" dy="2.6" textLength="18" lengthAdjust="spacingAndGlyphs">Qtr1</text>
<text x="621.6" y="224.2" font-size="7.2" fill="#ececec" text-anchor="middle" textLength="14.5" lengthAdjust="spacingAndGlyphs">2010</text>
<text x="636.6" y="208" font-size="7" fill="#e8e8e8" transform="rotate(-90 636.6 208)" dy="2.6" textLength="18" lengthAdjust="spacingAndGlyphs">Qtr1</text>
<text x="636.6" y="224.2" font-size="7.2" fill="#ececec" text-anchor="middle" textLength="14.5" lengthAdjust="spacingAndGlyphs">2011</text>
<text x="651.7" y="208" font-size="7" fill="#e8e8e8" transform="rotate(-90 651.7 208)" dy="2.6" textLength="18" lengthAdjust="spacingAndGlyphs">Qtr1</text>
<text x="651.7" y="224.2" font-size="7.2" fill="#ececec" text-anchor="middle" textLength="14.5" lengthAdjust="spacingAndGlyphs">2012</text>
<text x="666.7" y="208" font-size="7" fill="#e8e8e8" transform="rotate(-90 666.7 208)" dy="2.6" textLength="18" lengthAdjust="spacingAndGlyphs">Qtr1</text>
<text x="666.7" y="224.2" font-size="7.2" fill="#ececec" text-anchor="middle" textLength="14.5" lengthAdjust="spacingAndGlyphs">2010</text>
<text x="681.7" y="208" font-size="7" fill="#e8e8e8" transform="rotate(-90 681.7 208)" dy="2.6" textLength="18" lengthAdjust="spacingAndGlyphs">Qtr1</text>
<text x="681.7" y="224.2" font-size="7.2" fill="#ececec" text-anchor="middle" textLength="14.5" lengthAdjust="spacingAndGlyphs">2011</text>
<text x="696.8" y="208" font-size="7" fill="#e8e8e8" transform="rotate(-90 696.8 208)" dy="2.6" textLength="18" lengthAdjust="spacingAndGlyphs">Qtr1</text>
<text x="696.8" y="224.2" font-size="7.2" fill="#ececec" text-anchor="middle" textLength="14.5" lengthAdjust="spacingAndGlyphs">2012</text>
<text x="711.8" y="208" font-size="7" fill="#e8e8e8" transform="rotate(-90 711.8 208)" dy="2.6" textLength="18" lengthAdjust="spacingAndGlyphs">Qtr2</text>
<text x="711.8" y="224.2" font-size="7.2" fill="#ececec" text-anchor="middle" textLength="14.5" lengthAdjust="spacingAndGlyphs">2010</text>
<text x="726.8" y="208" font-size="7" fill="#e8e8e8" transform="rotate(-90 726.8 208)" dy="2.6" textLength="18" lengthAdjust="spacingAndGlyphs">Qtr2</text>
<text x="726.8" y="224.2" font-size="7.2" fill="#ececec" text-anchor="middle" textLength="14.5" lengthAdjust="spacingAndGlyphs">2011</text>
<text x="741.8" y="208" font-size="7" fill="#e8e8e8" transform="rotate(-90 741.8 208)" dy="2.6" textLength="18" lengthAdjust="spacingAndGlyphs">Qtr2</text>
<text x="741.8" y="224.2" font-size="7.2" fill="#ececec" text-anchor="middle" textLength="14.5" lengthAdjust="spacingAndGlyphs">2012</text>
<text x="756.9" y="208" font-size="7" fill="#e8e8e8" transform="rotate(-90 756.9 208)" dy="2.6" textLength="18" lengthAdjust="spacingAndGlyphs">Qtr2</text>
<text x="756.9" y="224.2" font-size="7.2" fill="#ececec" text-anchor="middle" textLength="14.5" lengthAdjust="spacingAndGlyphs">2010</text>
<text x="771.9" y="208" font-size="7" fill="#e8e8e8" transform="rotate(-90 771.9 208)" dy="2.6" textLength="18" lengthAdjust="spacingAndGlyphs">Qtr2</text>
<text x="771.9" y="224.2" font-size="7.2" fill="#ececec" text-anchor="middle" textLength="14.5" lengthAdjust="spacingAndGlyphs">2011</text>
<text x="786.9" y="208" font-size="7" fill="#e8e8e8" transform="rotate(-90 786.9 208)" dy="2.6" textLength="18" lengthAdjust="spacingAndGlyphs">Qtr2</text>
<text x="786.9" y="224.2" font-size="7.2" fill="#ececec" text-anchor="middle" textLength="14.5" lengthAdjust="spacingAndGlyphs">2012</text>
<text x="802.0" y="208" font-size="7" fill="#e8e8e8" transform="rotate(-90 802.0 208)" dy="2.6" textLength="18" lengthAdjust="spacingAndGlyphs">Qtr2</text>
<text x="802.0" y="224.2" font-size="7.2" fill="#ececec" text-anchor="middle" textLength="14.5" lengthAdjust="spacingAndGlyphs">2010</text>
<text x="817.0" y="208" font-size="7" fill="#e8e8e8" transform="rotate(-90 817.0 208)" dy="2.6" textLength="18" lengthAdjust="spacingAndGlyphs">Qtr2</text>
<text x="817.0" y="224.2" font-size="7.2" fill="#ececec" text-anchor="middle" textLength="14.5" lengthAdjust="spacingAndGlyphs">2011</text>
<text x="832.0" y="208" font-size="7" fill="#e8e8e8" transform="rotate(-90 832.0 208)" dy="2.6" textLength="18" lengthAdjust="spacingAndGlyphs">Qtr2</text>
<text x="832.0" y="224.2" font-size="7.2" fill="#ececec" text-anchor="middle" textLength="14.5" lengthAdjust="spacingAndGlyphs">2012</text>
<text x="847.1" y="208" font-size="7" fill="#e8e8e8" transform="rotate(-90 847.1 208)" dy="2.6" textLength="18" lengthAdjust="spacingAndGlyphs">Qtr3</text>
<text x="847.1" y="224.2" font-size="7.2" fill="#ececec" text-anchor="middle" textLength="14.5" lengthAdjust="spacingAndGlyphs">2010</text>
<text x="862.1" y="208" font-size="7" fill="#e8e8e8" transform="rotate(-90 862.1 208)" dy="2.6" textLength="18" lengthAdjust="spacingAndGlyphs">Qtr3</text>
<text x="862.1" y="224.2" font-size="7.2" fill="#ececec" text-anchor="middle" textLength="14.5" lengthAdjust="spacingAndGlyphs">2011</text>
<text x="877.1" y="208" font-size="7" fill="#e8e8e8" transform="rotate(-90 877.1 208)" dy="2.6" textLength="18" lengthAdjust="spacingAndGlyphs">Qtr3</text>
<text x="877.1" y="224.2" font-size="7.2" fill="#ececec" text-anchor="middle" textLength="14.5" lengthAdjust="spacingAndGlyphs">2012</text>
<text x="892.1" y="208" font-size="7" fill="#e8e8e8" transform="rotate(-90 892.1 208)" dy="2.6" textLength="18" lengthAdjust="spacingAndGlyphs">Qtr3</text>
<text x="892.1" y="224.2" font-size="7.2" fill="#ececec" text-anchor="middle" textLength="14.5" lengthAdjust="spacingAndGlyphs">2012</text>
<text x="907.2" y="208" font-size="7" fill="#e8e8e8" transform="rotate(-90 907.2 208)" dy="2.6" textLength="18" lengthAdjust="spacingAndGlyphs">Qtr3</text>
<text x="907.2" y="224.2" font-size="7.2" fill="#ececec" text-anchor="middle" textLength="14.5" lengthAdjust="spacingAndGlyphs">2010</text>
<text x="922.2" y="208" font-size="7" fill="#e8e8e8" transform="rotate(-90 922.2 208)" dy="2.6" textLength="18" lengthAdjust="spacingAndGlyphs">Qtr3</text>
<text x="922.2" y="224.2" font-size="7.2" fill="#ececec" text-anchor="middle" textLength="14.5" lengthAdjust="spacingAndGlyphs">2011</text>
<text x="937.2" y="208" font-size="7" fill="#e8e8e8" transform="rotate(-90 937.2 208)" dy="2.6" textLength="18" lengthAdjust="spacingAndGlyphs">Qtr3</text>
<text x="937.2" y="224.2" font-size="7.2" fill="#ececec" text-anchor="middle" textLength="14.5" lengthAdjust="spacingAndGlyphs">2012</text>
<text x="952.3" y="208" font-size="7" fill="#e8e8e8" transform="rotate(-90 952.3 208)" dy="2.6" textLength="18" lengthAdjust="spacingAndGlyphs">Qtr4</text>
<text x="952.3" y="224.2" font-size="7.2" fill="#ececec" text-anchor="middle" textLength="14.5" lengthAdjust="spacingAndGlyphs">2010</text>
<text x="967.3" y="208" font-size="7" fill="#e8e8e8" transform="rotate(-90 967.3 208)" dy="2.6" textLength="18" lengthAdjust="spacingAndGlyphs">Qtr4</text>
<text x="967.3" y="224.2" font-size="7.2" fill="#ececec" text-anchor="middle" textLength="14.5" lengthAdjust="spacingAndGlyphs">2011</text>
<text x="982.3" y="208" font-size="7" fill="#e8e8e8" transform="rotate(-90 982.3 208)" dy="2.6" textLength="18" lengthAdjust="spacingAndGlyphs">Qtr4</text>
<text x="982.3" y="224.2" font-size="7.2" fill="#ececec" text-anchor="middle" textLength="14.5" lengthAdjust="spacingAndGlyphs">2012</text>
<text x="997.4" y="208" font-size="7" fill="#e8e8e8" transform="rotate(-90 997.4 208)" dy="2.6" textLength="18" lengthAdjust="spacingAndGlyphs">Qtr4</text>
<text x="997.4" y="224.2" font-size="7.2" fill="#ececec" text-anchor="middle" textLength="14.5" lengthAdjust="spacingAndGlyphs">2010</text>
<text x="1012.4" y="208" font-size="7" fill="#e8e8e8" transform="rotate(-90 1012.4 208)" dy="2.6" textLength="18" lengthAdjust="spacingAndGlyphs">Qtr4</text>
<text x="1012.4" y="224.2" font-size="7.2" fill="#ececec" text-anchor="middle" textLength="14.5" lengthAdjust="spacingAndGlyphs">2011</text>
<text x="1027.4" y="208" font-size="7" fill="#e8e8e8" transform="rotate(-90 1027.4 208)" dy="2.6" textLength="18" lengthAdjust="spacingAndGlyphs">Qtr4</text>
<text x="1027.4" y="224.2" font-size="7.2" fill="#ececec" text-anchor="middle" textLength="14.5" lengthAdjust="spacingAndGlyphs">2012</text>
<text x="1042.4" y="208" font-size="7" fill="#e8e8e8" transform="rotate(-90 1042.4 208)" dy="2.6" textLength="18" lengthAdjust="spacingAndGlyphs">Qtr4</text>
<text x="1042.4" y="224.2" font-size="7.2" fill="#ececec" text-anchor="middle" textLength="14.5" lengthAdjust="spacingAndGlyphs">2010</text>
<text x="1057.5" y="208" font-size="7" fill="#e8e8e8" transform="rotate(-90 1057.5 208)" dy="2.6" textLength="18" lengthAdjust="spacingAndGlyphs">Qtr4</text>
<text x="1057.5" y="224.2" font-size="7.2" fill="#ececec" text-anchor="middle" textLength="14.5" lengthAdjust="spacingAndGlyphs">2011</text>
<text x="1072.5" y="208" font-size="7" fill="#e8e8e8" transform="rotate(-90 1072.5 208)" dy="2.6" textLength="18" lengthAdjust="spacingAndGlyphs">Qtr4</text>
<text x="1072.5" y="224.2" font-size="7.2" fill="#ececec" text-anchor="middle" textLength="14.5" lengthAdjust="spacingAndGlyphs">2012</text>
<text x="591.5" y="243" font-size="7.5" fill="#e0e0e0" text-anchor="middle">Jan</text>
<text x="636.6" y="243" font-size="7.5" fill="#e0e0e0" text-anchor="middle">Feb</text>
<text x="681.7" y="243" font-size="7.5" fill="#e0e0e0" text-anchor="middle">Mar</text>
<text x="726.8" y="243" font-size="7.5" fill="#e0e0e0" text-anchor="middle">Apr</text>
<text x="771.9" y="243" font-size="7.5" fill="#e0e0e0" text-anchor="middle">May</text>
<text x="817.0" y="243" font-size="7.5" fill="#e0e0e0" text-anchor="middle">Jun</text>
<text x="862.1" y="243" font-size="7.5" fill="#e0e0e0" text-anchor="middle">Jul</text>
<text x="892.1" y="243" font-size="7.5" fill="#e0e0e0" text-anchor="middle">Aug</text>
<text x="922.2" y="243" font-size="7.5" fill="#e0e0e0" text-anchor="middle">Sep</text>
<text x="967.3" y="243" font-size="7.5" fill="#e0e0e0" text-anchor="middle">Oct</text>
<text x="1012.4" y="243" font-size="7.5" fill="#e0e0e0" text-anchor="middle">Nov</text>
<text x="1057.5" y="243" font-size="7.5" fill="#e0e0e0" text-anchor="middle">Dec</text>
<rect x="525" y="225.5" width="56.0" height="14.8" rx="7" fill="url(#pillg)" stroke="#b0b0b0" stroke-width="0.7"/>
<text x="529.2" y="235.1" font-size="6" fill="#1e1e1e" text-anchor="start" textLength="30.3" lengthAdjust="spacingAndGlyphs">Order Date</text>
<path d="M574.0 232.0 L577.2 232.0 L575.6 234.0 Z" fill="#222"/>
<rect x="582" y="225.5" width="35.0" height="14.8" rx="7" fill="url(#pillg)" stroke="#b0b0b0" stroke-width="0.7"/>
<text x="586.5" y="235.1" font-size="6" fill="#1e1e1e" text-anchor="start" textLength="13.3" lengthAdjust="spacingAndGlyphs">Years</text>
<path d="M609.4 232.0 L612.6 232.0 L611.0 234.0 Z" fill="#222"/>
<rect x="618.5" y="225.5" width="49.5" height="14.8" rx="7" fill="url(#pillg)" stroke="#b0b0b0" stroke-width="0.7"/>
<text x="622.5" y="235.1" font-size="6" fill="#1e1e1e" text-anchor="start" textLength="22.5" lengthAdjust="spacingAndGlyphs">Quarters</text>
<path d="M659.9 232.0 L663.1 232.0 L661.5 234.0 Z" fill="#222"/>
<rect x="1116" y="16" width="134" height="97" fill="#f4f5f1"/>
<line x1="1116" y1="112.8" x2="1250" y2="112.8" stroke="#b4c0a4" stroke-width="1.2"/>
<text x="1121" y="31.4" font-size="12" fill="#1a1a1a" font-weight="bold" text-anchor="start" textLength="33.3" lengthAdjust="spacingAndGlyphs">Years</text>
<path d="M1234.5 20.5 L1245 20.5 L1241 25 L1241 30 L1238.5 28.5 L1238.5 25 Z" fill="#d8d8d8"/>
<line x1="1120" y1="37.5" x2="1248" y2="37.5" stroke="#c8cec0" stroke-width="1"/>
<rect x="1122.2" y="40.2" width="110" height="20.199999999999996" rx="3" fill="#c8deb6" stroke="#9fb08e" stroke-width="1"/>
<text x="1128.8" y="55.3" font-size="13.3" fill="#1c2814" text-anchor="start" textLength="22.2" lengthAdjust="spacingAndGlyphs" stroke="#1c2814" stroke-width="0.35">2012</text>
<rect x="1122.2" y="63.5" width="110" height="20.5" rx="3" fill="#c8deb6" stroke="#9fb08e" stroke-width="1"/>
<text x="1128.8" y="78.7" font-size="13.3" fill="#1c2814" text-anchor="start" textLength="20.8" lengthAdjust="spacingAndGlyphs" stroke="#1c2814" stroke-width="0.35">2011</text>
<rect x="1122.2" y="87" width="110" height="20" rx="3" fill="#c8deb6" stroke="#9fb08e" stroke-width="1"/>
<text x="1128.8" y="102.7" font-size="13.3" fill="#1c2814" text-anchor="start" textLength="22.6" lengthAdjust="spacingAndGlyphs" stroke="#1c2814" stroke-width="0.35">2010</text>
<rect x="1116" y="105.5" width="134" height="7.3" fill="#f4f5f1"/>
<rect x="1234" y="40" width="13.5" height="65.5" fill="#e6e6e6"/>
<rect x="1234" y="40" width="13.5" height="65.5" fill="none" stroke="#202020" stroke-width="1"/>
<rect x="1234.5" y="40.5" width="12.5" height="14" fill="#efefef"/>
<line x1="1234" y1="55" x2="1247.5" y2="55" stroke="#202020" stroke-width="1.2"/>
<path d="M1237.3 51 L1244.2 51 L1240.75 45.5 Z" fill="#111"/>
<rect x="1235" y="56.5" width="11.5" height="11" fill="#d8d8d8"/>
<line x1="1234" y1="68" x2="1247.5" y2="68" stroke="#202020" stroke-width="1.2"/>
<line x1="1234" y1="92" x2="1247.5" y2="92" stroke="#202020" stroke-width="1"/>
<rect x="1234.5" y="92.5" width="12.5" height="12.5" fill="#efefef"/>
<path d="M1237.3 96.5 L1244.2 96.5 L1240.75 102 Z" fill="#111"/>
<rect x="1138.5" y="162.7" width="108" height="62.5" fill="#3a3a3a"/>
<rect x="1136.8" y="161" width="107.5" height="61.5" fill="#d6d2cc"/>
<text x="1190.6" y="196" font-size="10" fill="#1a1a1a" text-anchor="middle" textLength="62" lengthAdjust="spacingAndGlyphs">Return to Map</text>
<rect x="39" y="247" width="246" height="197" fill="url(#grayg)"/>
<rect x="285" y="247" width="3.5" height="197" fill="#ebebeb"/>
<rect x="43" y="258" width="46.9" height="12.7" rx="6.349999999999994" fill="url(#pillg)" stroke="#b0b0b0" stroke-width="0.7"/>
<text x="46.7" y="266.5" font-size="6" fill="#1e1e1e" text-anchor="start" textLength="23.5" lengthAdjust="spacingAndGlyphs">Products</text>
<path d="M82.7 263.5 L85.9 263.5 L84.3 265.5 Z" fill="#222"/>
<text x="185" y="268.4" font-size="10.2" fill="#3c3c3c" font-weight="bold" text-anchor="middle" textLength="169" lengthAdjust="spacingAndGlyphs">Units sold Per Channel from 2010-2012</text>
<rect x="45.8" y="278.2" width="89.8" height="13.5" rx="6.75" fill="url(#pillg)" stroke="#b0b0b0" stroke-width="0.7"/>
<text x="49.5" y="287.1" font-size="6" fill="#1e1e1e" text-anchor="start" textLength="61" lengthAdjust="spacingAndGlyphs">Units Sold per Channel</text>
<text x="76" y="334.40000000000003" font-size="8" fill="#333" text-anchor="end" textLength="27.4" lengthAdjust="spacingAndGlyphs">150,000</text>
<text x="76" y="355.7" font-size="8" fill="#333" text-anchor="end" textLength="27.4" lengthAdjust="spacingAndGlyphs">100,000</text>
<text x="76" y="378.2" font-size="8" fill="#333" text-anchor="end" textLength="22" lengthAdjust="spacingAndGlyphs">50,000</text>
<text x="76" y="399.8" font-size="8" fill="#333" text-anchor="end" textLength="2.5" lengthAdjust="spacingAndGlyphs">-</text>
<g stroke="#c4c4c4" stroke-width="0.7" fill="none"><path d="M80 331 L86 336 L220 336"/><path d="M80 352.5 L86 357 L220 357"/><path d="M80 375 L86 378 L220 378"/></g>
<path d="M84 397.5 L86.5 394.5 L224.5 394.5 L222 397.5 Z" fill="#555"/>
<rect x="95" y="387.0" width="9.4" height="9.0" fill="#ee7d30"/>
<path d="M104.4 387.0 L107 384.4 L107 393.4 L104.4 396 Z" fill="#b85a1a"/>
<path d="M95 387.0 L97.6 384.4 L107 384.4 L104.4 387.0 Z" fill="#f4a060"/>
<rect x="106.2" y="388.6" width="9.7" height="7.4" fill="#fcc40a"/>
<path d="M115.9 388.6 L118.5 386.0 L118.5 393.4 L115.9 396 Z" fill="#c89600"/>
<path d="M106.2 388.6 L108.8 386.0 L118.5 386.0 L115.9 388.6 Z" fill="#ffe070"/>
<rect x="118" y="384.1" width="10.9" height="11.9" fill="#6fae45"/>
<path d="M128.9 384.1 L131.5 381.5 L131.5 393.4 L128.9 396 Z" fill="#447a28"/>
<path d="M118 384.1 L120.6 381.5 L131.5 381.5 L128.9 384.1 Z" fill="#a4d47c"/>
<rect x="136.5" y="347.6" width="9.9" height="48.4" fill="#ee7d30"/>
<path d="M146.4 347.6 L149 345.0 L149 393.4 L146.4 396 Z" fill="#b85a1a"/>
<path d="M136.5 347.6 L139.1 345.0 L149 345.0 L146.4 347.6 Z" fill="#f4a060"/>
<rect x="148.3" y="349.90000000000003" width="9.6" height="46.1" fill="#fcc40a"/>
<path d="M157.9 349.90000000000003 L160.5 347.3 L160.5 393.4 L157.9 396 Z" fill="#c89600"/>
<path d="M148.3 349.90000000000003 L150.9 347.3 L160.5 347.3 L157.9 349.90000000000003 Z" fill="#ffe070"/>
<rect x="159.5" y="340.6" width="10.4" height="55.4" fill="#6fae45"/>
<path d="M169.9 340.6 L172.5 338.0 L172.5 393.4 L169.9 396 Z" fill="#447a28"/>
<path d="M159.5 340.6 L162.1 338.0 L172.5 338.0 L169.9 340.6 Z" fill="#a4d47c"/>
<rect x="176.4" y="360.3" width="10.5" height="35.7" fill="#ee7d30"/>
<path d="M186.9 360.3 L189.5 357.7 L189.5 393.4 L186.9 396 Z" fill="#b85a1a"/>
<path d="M176.4 360.3 L179.0 357.7 L189.5 357.7 L186.9 360.3 Z" fill="#f4a060"/>
<rect x="189" y="363.1" width="9.9" height="32.9" fill="#fcc40a"/>
<path d="M198.9 363.1 L201.5 360.5 L201.5 393.4 L198.9 396 Z" fill="#c89600"/>
<path d="M189 363.1 L191.6 360.5 L201.5 360.5 L198.9 363.1 Z" fill="#ffe070"/>
<rect x="201" y="354.6" width="10.4" height="41.4" fill="#6fae45"/>
<path d="M211.4 354.6 L214 352.0 L214 393.4 L211.4 396 Z" fill="#447a28"/>
<path d="M201 354.6 L203.6 352.0 L214 352.0 L211.4 354.6 Z" fill="#a4d47c"/>
<text x="109" y="412.5" font-size="8" fill="#3a3a3a" text-anchor="middle" textLength="23.6" lengthAdjust="spacingAndGlyphs">DIRECT</text>
<text x="154" y="412.5" font-size="8" fill="#3a3a3a" text-anchor="middle" textLength="24.5" lengthAdjust="spacingAndGlyphs">ONLINE</text>
<text x="198.8" y="412.5" font-size="8" fill="#3a3a3a" text-anchor="middle" textLength="22.5" lengthAdjust="spacingAndGlyphs">RETAIL</text>
<rect x="234.5" y="336" width="46" height="70" fill="#ebebeb" rx="3"/>
<rect x="235.3" y="336.6" width="43.5" height="14.1" rx="7" fill="url(#pillg)" stroke="#b0b0b0" stroke-width="0.7"/>
<text x="239.5" y="345.8" font-size="6" fill="#1e1e1e" text-anchor="start" textLength="14" lengthAdjust="spacingAndGlyphs">Years</text>
<path d="M260.7 338.4 L271.7 338.4 L267.4 343.1 L267.4 348.9 L265.0 347.9 L265.0 343.1 Z" fill="#5a5a5a"/>
<path d="M257.2 344.2 L259.8 344.2 L258.5 346.0 Z" fill="#222"/>
<rect x="238.7" y="356.6" width="5" height="6" fill="#ee7d30" stroke="#b85a1a" stroke-width="0.8"/>
<text x="245" y="363.1" font-size="9.5" fill="#333" text-anchor="start" textLength="17.7" lengthAdjust="spacingAndGlyphs">2010</text>
<rect x="238.7" y="375.7" width="5" height="6" fill="#fcc40a" stroke="#c89600" stroke-width="0.8"/>
<text x="245" y="382.2" font-size="9.5" fill="#333" text-anchor="start" textLength="17.7" lengthAdjust="spacingAndGlyphs">2011</text>
<rect x="238.7" y="394" width="5" height="6" fill="#6fae45" stroke="#447a28" stroke-width="0.8"/>
<text x="245" y="400.5" font-size="9.5" fill="#333" text-anchor="start" textLength="17.7" lengthAdjust="spacingAndGlyphs">2012</text>
<rect x="45.8" y="424.2" width="67.4" height="12.8" rx="6.400000000000006" fill="url(#pillg)" stroke="#b0b0b0" stroke-width="0.7"/>
<text x="49.5" y="432.8" font-size="6" fill="#1e1e1e" text-anchor="start" textLength="35.5" lengthAdjust="spacingAndGlyphs">Sales Channel</text>
<path d="M106.0 429.7 L109.2 429.7 L107.6 431.7 Z" fill="#222"/>
<rect x="288.5" y="247" width="231" height="197" fill="url(#grayg)"/>
<rect x="296" y="257.5" width="39.8" height="13.1" rx="6.550000000000011" fill="url(#pillg)" stroke="#b0b0b0" stroke-width="0.7"/>
<text x="300.2" y="266.2" font-size="6" fill="#1e1e1e" text-anchor="start" textLength="23.3" lengthAdjust="spacingAndGlyphs">Revenue</text>
<text x="423.2" y="272.2" font-size="10.2" fill="#3c3c3c" font-weight="bold" text-anchor="middle" textLength="163.5" lengthAdjust="spacingAndGlyphs">Revenue Per Channel from 2010-2012</text>
<text x="340.9" y="313.4" font-size="8.3" fill="#333" text-anchor="end" textLength="45" lengthAdjust="spacingAndGlyphs">$15,000,000</text>
<text x="340.9" y="341.7" font-size="8.3" fill="#333" text-anchor="end" textLength="45" lengthAdjust="spacingAndGlyphs">$10,000,000</text>
<text x="340.9" y="370.29999999999995" font-size="8.3" fill="#333" text-anchor="end" textLength="40" lengthAdjust="spacingAndGlyphs">$5,000,000</text>
<text x="340.9" y="399.7" font-size="8.3" fill="#333" text-anchor="end" textLength="7" lengthAdjust="spacingAndGlyphs">$-</text>
<g stroke="#c4c4c4" stroke-width="0.7" fill="none"><path d="M347 310 L353 315 L458 315"/><path d="M347 338.5 L353 342 L458 342"/><path d="M347 367 L353 370 L458 370"/></g>
<path d="M349 397.5 L351.5 394.5 L465 394.5 L462.5 397.5 Z" fill="#555"/>
<rect x="356.3" y="384.0" width="8.1" height="12.0" fill="#6ea6e0"/>
<path d="M364.4 384.0 L367 381.4 L367 393.4 L364.4 396 Z" fill="#3f78b8"/>
<path d="M356.3 384.0 L358.90000000000003 381.4 L367 381.4 L364.4 384.0 Z" fill="#a8ccf0"/>
<rect x="366" y="384.6" width="7.4" height="11.4" fill="#c4c4c4"/>
<path d="M373.4 384.6 L376 382.0 L376 393.4 L373.4 396 Z" fill="#8e8e8e"/>
<path d="M366 384.6 L368.6 382.0 L376 382.0 L373.4 384.6 Z" fill="#e4e4e4"/>
<rect x="376" y="381.8" width="9.4" height="14.2" fill="#4a7fd0"/>
<path d="M385.4 381.8 L388 379.2 L388 393.4 L385.4 396 Z" fill="#2c5aa0"/>
<path d="M376 381.8 L378.6 379.2 L388 379.2 L385.4 381.8 Z" fill="#84aee8"/>
<rect x="392" y="330.20000000000005" width="8.4" height="65.8" fill="#6ea6e0"/>
<path d="M400.4 330.20000000000005 L403 327.6 L403 393.4 L400.4 396 Z" fill="#3f78b8"/>
<path d="M392 330.20000000000005 L394.6 327.6 L403 327.6 L400.4 330.20000000000005 Z" fill="#a8ccf0"/>
<rect x="402" y="333.6" width="7.9" height="62.4" fill="#c4c4c4"/>
<path d="M409.9 333.6 L412.5 331.0 L412.5 393.4 L409.9 396 Z" fill="#8e8e8e"/>
<path d="M402 333.6 L404.6 331.0 L412.5 331.0 L409.9 333.6 Z" fill="#e4e4e4"/>
<rect x="411" y="320.90000000000003" width="8.4" height="75.1" fill="#4a7fd0"/>
<path d="M419.4 320.90000000000003 L422 318.3 L422 393.4 L419.4 396 Z" fill="#2c5aa0"/>
<path d="M411 320.90000000000003 L413.6 318.3 L422 318.3 L419.4 320.90000000000003 Z" fill="#84aee8"/>
<rect x="426.4" y="350.90000000000003" width="9.0" height="45.1" fill="#6ea6e0"/>
<path d="M435.4 350.90000000000003 L438 348.3 L438 393.4 L435.4 396 Z" fill="#3f78b8"/>
<path d="M426.4 350.90000000000003 L429.0 348.3 L438 348.3 L435.4 350.90000000000003 Z" fill="#a8ccf0"/>
<rect x="437" y="350.90000000000003" width="7.9" height="45.1" fill="#c4c4c4"/>
<path d="M444.9 350.90000000000003 L447.5 348.3 L447.5 393.4 L444.9 396 Z" fill="#8e8e8e"/>
<path d="M437 350.90000000000003 L439.6 348.3 L447.5 348.3 L444.9 350.90000000000003 Z" fill="#e4e4e4"/>
<rect x="444.6" y="340.6" width="10.3" height="55.4" fill="#4a7fd0"/>
<path d="M454.9 340.6 L457.5 338.0 L457.5 393.4 L454.9 396 Z" fill="#2c5aa0"/>
<path d="M444.6 340.6 L447.20000000000005 338.0 L457.5 338.0 L454.9 340.6 Z" fill="#84aee8"/>
<text x="369" y="412.5" font-size="8" fill="#3a3a3a" text-anchor="middle" textLength="24" lengthAdjust="spacingAndGlyphs">DIRECT</text>
<text x="406.8" y="412.5" font-size="8" fill="#3a3a3a" text-anchor="middle" textLength="25" lengthAdjust="spacingAndGlyphs">ONLINE</text>
<text x="443.2" y="412.5" font-size="8" fill="#3a3a3a" text-anchor="middle" textLength="23" lengthAdjust="spacingAndGlyphs">RETAIL</text>
<rect x="475" y="325" width="38" height="68" fill="#ebebeb" rx="3"/>
<rect x="476" y="325.3" width="35.4" height="13.5" rx="6.75" fill="url(#pillg)" stroke="#b0b0b0" stroke-width="0.7"/>
<text x="479.7" y="334.2" font-size="6" fill="#1e1e1e" text-anchor="start" textLength="14" lengthAdjust="spacingAndGlyphs">Years</text>
<path d="M503.4 331.2 L506.6 331.2 L505.0 333.2 Z" fill="#222"/>
<rect x="479.7" y="346.2" width="4.5" height="6" fill="#6ea6e0" stroke="#3f78b8" stroke-width="0.8"/>
<text x="485.3" y="352.7" font-size="9.5" fill="#333" text-anchor="start" textLength="17.7" lengthAdjust="spacingAndGlyphs">2010</text>
<rect x="479.7" y="364.4" width="4.5" height="6" fill="#c4c4c4" stroke="#8e8e8e" stroke-width="0.8"/>
<text x="485.3" y="370.9" font-size="9.5" fill="#333" text-anchor="start" textLength="17.7" lengthAdjust="spacingAndGlyphs">2011</text>
<rect x="479.7" y="382.6" width="4.5" height="6" fill="#4a7fd0" stroke="#2c5aa0" stroke-width="0.8"/>
<text x="485.3" y="389.1" font-size="9.5" fill="#333" text-anchor="start" textLength="17.7" lengthAdjust="spacingAndGlyphs">2012</text>
<rect x="296" y="424.9" width="66.0" height="12.6" rx="6.300000000000011" fill="url(#pillg)" stroke="#b0b0b0" stroke-width="0.7"/>
<text x="298.8" y="433.4" font-size="6" fill="#1e1e1e" text-anchor="start" textLength="36" lengthAdjust="spacingAndGlyphs">Sales Channel</text>
<path d="M355.6 430.3 L358.8 430.3 L357.2 432.3 Z" fill="#222"/>
<rect x="519.5" y="247" width="299" height="196.5" fill="#f4f4f4"/>
<rect x="517" y="246" width="601" height="2" fill="#e2e2e2"/>
<line x1="519.5" y1="247" x2="519.5" y2="443.5" stroke="#b8b8b8" stroke-width="1"/>
<rect x="526.8" y="254.7" width="119.5" height="14.0" rx="7.0" fill="url(#pillg)" stroke="#b0b0b0" stroke-width="0.7"/>
<text x="533.2" y="263.9" font-size="6" fill="#1e1e1e" text-anchor="start" textLength="83.3" lengthAdjust="spacingAndGlyphs">Revenue made from 2010-2012</text>
<text x="664.3" y="288.4" font-size="10.2" fill="#111" font-weight="bold" text-anchor="middle" textLength="230" lengthAdjust="spacingAndGlyphs">Top 5 Sales Reps for Spring Software from 2010-2012</text>
<line x1="650.2" y1="304.3" x2="650.2" y2="437.5" stroke="#5a5a5a" stroke-width="1"/>
<rect x="650.7" y="313.6" width="65.69999999999993" height="9.7" fill="#f2c100"/>
<text x="640.7" y="321.6" font-size="8.8" fill="#222" text-anchor="end" textLength="35" lengthAdjust="spacingAndGlyphs">Kostecki</text>
<text x="724.0" y="321.8" font-size="8.8" fill="#222" text-anchor="start" textLength="42.5" lengthAdjust="spacingAndGlyphs">$5,333,535</text>
<rect x="650.7" y="340.1" width="75.29999999999995" height="9.7" fill="#f2c100"/>
<text x="640.7" y="348.1" font-size="8.8" fill="#222" text-anchor="end" textLength="17" lengthAdjust="spacingAndGlyphs">Lang</text>
<text x="733.6" y="348.3" font-size="8.8" fill="#222" text-anchor="start" textLength="42.5" lengthAdjust="spacingAndGlyphs">$5,388,158</text>
<rect x="650.7" y="366.6" width="85.09999999999991" height="9.7" fill="#f2c100"/>
<text x="640.7" y="374.6" font-size="8.8" fill="#222" text-anchor="end" textLength="40.5" lengthAdjust="spacingAndGlyphs">Dickenson</text>
<text x="743.4" y="374.8" font-size="8.8" fill="#222" text-anchor="start" textLength="42.5" lengthAdjust="spacingAndGlyphs">$5,433,920</text>
<rect x="650.7" y="393.1" width="94.89999999999998" height="9.7" fill="#f2c100"/>
<text x="640.7" y="401.1" font-size="8.8" fill="#222" text-anchor="end" textLength="18" lengthAdjust="spacingAndGlyphs">Shao</text>
<text x="753.2" y="401.3" font-size="8.8" fill="#222" text-anchor="start" textLength="42.5" lengthAdjust="spacingAndGlyphs">$5,486,107</text>
<rect x="650.7" y="419.6" width="149.0" height="9.7" fill="#f2c100"/>
<text x="640.7" y="427.6" font-size="8.8" fill="#222" text-anchor="end" textLength="22" lengthAdjust="spacingAndGlyphs">Fahey</text>
<text x="771.7" y="427.8" font-size="8.8" fill="#222" text-anchor="start" textLength="42.5" lengthAdjust="spacingAndGlyphs">$5,757,084</text>
<rect x="524.8" y="352.8" width="69.2" height="14.1" rx="7" fill="url(#pillg)" stroke="#b0b0b0" stroke-width="0.7"/>
<text x="529" y="362.0" font-size="6" fill="#1e1e1e" text-anchor="start" textLength="33" lengthAdjust="spacingAndGlyphs">Salesperson</text>
<path d="M575.5 354.6 L586.5 354.6 L582.2 359.3 L582.2 365.1 L579.8 364.1 L579.8 359.3 Z" fill="#5a5a5a"/>
<path d="M572.0 360.4 L574.6 360.4 L573.3 362.2 Z" fill="#222"/>
<rect x="818.2" y="251.9" width="298.1" height="188.5" fill="#f4f4f4" stroke="#b4b4b4" stroke-width="0.8"/>
<rect x="824.6" y="259.4" width="117.8" height="13.2" rx="6.600000000000023" fill="url(#pillg)" stroke="#b0b0b0" stroke-width="0.7"/>
<text x="828.8" y="268.2" font-size="6" fill="#1e1e1e" text-anchor="start" textLength="83.6" lengthAdjust="spacingAndGlyphs">Revenue made from 2010-2012</text>
<text x="964.4" y="289.5" font-size="10.2" fill="#111" font-weight="bold" text-anchor="middle" textLength="225.2" lengthAdjust="spacingAndGlyphs">Bottom 5 Sales Reps for Spring Software from 2012-</text>
<text x="964.4" y="303.7" font-size="10.2" fill="#111" font-weight="bold" text-anchor="middle" textLength="20.5" lengthAdjust="spacingAndGlyphs">2012</text>
<line x1="944.4" y1="325.3" x2="944.4" y2="439" stroke="#5a5a5a" stroke-width="1"/>
<rect x="944.9" y="332.4" width="103.30000000000007" height="8.6" fill="#5b8fca"/>
<text x="935.4" y="339.9" font-size="8.8" fill="#222" text-anchor="end" textLength="23" lengthAdjust="spacingAndGlyphs">Chang</text>
<text x="1056" y="340.2" font-size="8.8" fill="#222" text-anchor="start" textLength="42.7" lengthAdjust="spacingAndGlyphs">$3,860,401</text>
<rect x="944.9" y="355.54999999999995" width="114.80000000000007" height="8.6" fill="#5b8fca"/>
<text x="935.4" y="363.04999999999995" font-size="8.8" fill="#222" text-anchor="end" textLength="21.5" lengthAdjust="spacingAndGlyphs">Miller</text>
<text x="1068" y="363.34999999999997" font-size="8.8" fill="#222" text-anchor="start" textLength="42.7" lengthAdjust="spacingAndGlyphs">$4,304,764</text>
<rect x="944.9" y="378.7" width="123.80000000000007" height="8.6" fill="#5b8fca"/>
<text x="935.4" y="386.2" font-size="8.8" fill="#222" text-anchor="end" textLength="35" lengthAdjust="spacingAndGlyphs">Campbell</text>
<text x="1070" y="386.5" font-size="8.8" fill="#222" text-anchor="start" textLength="42.7" lengthAdjust="spacingAndGlyphs">$4,654,898</text>
<rect x="944.9" y="401.84999999999997" width="124.60000000000002" height="8.6" fill="#5b8fca"/>
<text x="935.4" y="409.34999999999997" font-size="8.8" fill="#222" text-anchor="end" textLength="23" lengthAdjust="spacingAndGlyphs">Walsh</text>
<text x="1070" y="409.65" font-size="8.8" fill="#222" text-anchor="start" textLength="42.7" lengthAdjust="spacingAndGlyphs">$4,704,744</text>
<rect x="944.9" y="425.0" width="128.0000000000001" height="8.6" fill="#5b8fca"/>
<text x="935.4" y="432.5" font-size="8.8" fill="#222" text-anchor="end" textLength="34.5" lengthAdjust="spacingAndGlyphs">Stanosky</text>
<text x="1071" y="432.8" font-size="8.8" fill="#222" text-anchor="start" textLength="42.7" lengthAdjust="spacingAndGlyphs">$4,828,319</text>
<rect x="823.8" y="356.8" width="69.0" height="13.4" rx="6.699999999999989" fill="url(#pillg)" stroke="#b0b0b0" stroke-width="0.7"/>
<text x="827.4" y="365.7" font-size="6" fill="#1e1e1e" text-anchor="start" textLength="32.8" lengthAdjust="spacingAndGlyphs">Salesperson</text>
<path d="M874.5 358.6 L885.5 358.6 L881.2 363.0 L881.2 368.4 L878.8 367.4 L878.8 363.0 Z" fill="#5a5a5a"/>
<path d="M871.0 364.0 L873.6 364.0 L872.3 365.8 Z" fill="#222"/>
<defs><linearGradient id="grn" x1="0" y1="0" x2="1" y2="0"><stop offset="0" stop-color="#4e9a32"/><stop offset="0.5" stop-color="#6cb446"/><stop offset="1" stop-color="#4e9a32"/></linearGradient><linearGradient id="ylw" x1="0" y1="0" x2="1" y2="0"><stop offset="0" stop-color="#e8b000"/><stop offset="0.5" stop-color="#ffcc20"/><stop offset="1" stop-color="#e8b000"/></linearGradient><linearGradient id="org9" x1="0" y1="0" x2="0" y2="1"><stop offset="0" stop-color="#f08c46"/><stop offset="1" stop-color="#e2661c"/></linearGradient></defs>
<rect x="39" y="705" width="1078" height="7" fill="#f4f4f4"/>
<g stroke="#d4d4d4" stroke-width="1">
<line x1="85.5" y1="705" x2="85.5" y2="712"/>
<line x1="131.5" y1="705" x2="131.5" y2="712"/>
<line x1="177.5" y1="705" x2="177.5" y2="712"/>
<line x1="223.5" y1="705" x2="223.5" y2="712"/>
<line x1="269.5" y1="705" x2="269.5" y2="712"/>
<line x1="315.5" y1="705" x2="315.5" y2="712"/>
<line x1="361.5" y1="705" x2="361.5" y2="712"/>
<line x1="407.5" y1="705" x2="407.5" y2="712"/>
<line x1="453.5" y1="705" x2="453.5" y2="712"/>
<line x1="499.5" y1="705" x2="499.5" y2="712"/>
<line x1="545.5" y1="705" x2="545.5" y2="712"/>
<line x1="591.5" y1="705" x2="591.5" y2="712"/>
<line x1="637.5" y1="705" x2="637.5" y2="712"/>
<line x1="683.5" y1="705" x2="683.5" y2="712"/>
<line x1="729.5" y1="705" x2="729.5" y2="712"/>
<line x1="775.5" y1="705" x2="775.5" y2="712"/>
<line x1="821.5" y1="705" x2="821.5" y2="712"/>
<line x1="867.5" y1="705" x2="867.5" y2="712"/>
<line x1="913.5" y1="705" x2="913.5" y2="712"/>
<line x1="959.5" y1="705" x2="959.5" y2="712"/>
<line x1="1005.5" y1="705" x2="1005.5" y2="712"/>
<line x1="1051.5" y1="705" x2="1051.5" y2="712"/>
<line x1="1097.5" y1="705" x2="1097.5" y2="712"/>
</g>
<rect x="39" y="445" width="491" height="260" fill="url(#dark8)"/>
<text x="283.2" y="467.1" font-size="14.4" fill="#f0f0f0" font-weight="bold" text-anchor="middle" textLength="201.6" lengthAdjust="spacingAndGlyphs">Total Revenue v.s Targeted Goal</text>
<text x="116.5" y="488.1" font-size="7" fill="#c8c8c8" text-anchor="end" textLength="38.7" lengthAdjust="spacingAndGlyphs">$35,000,000</text>
<line x1="126" y1="485.6" x2="521.5" y2="485.6" stroke="#5a5a5a" stroke-width="0.8"/>
<text x="116.5" y="509.53000000000003" font-size="7" fill="#c8c8c8" text-anchor="end" textLength="38.7" lengthAdjust="spacingAndGlyphs">$30,000,000</text>
<line x1="126" y1="507.0" x2="521.5" y2="507.0" stroke="#5a5a5a" stroke-width="0.8"/>
<text x="116.5" y="530.96" font-size="7" fill="#c8c8c8" text-anchor="end" textLength="38.7" lengthAdjust="spacingAndGlyphs">$25,000,000</text>
<line x1="126" y1="528.5" x2="521.5" y2="528.5" stroke="#5a5a5a" stroke-width="0.8"/>
<text x="116.5" y="552.39" font-size="7" fill="#c8c8c8" text-anchor="end" textLength="38.7" lengthAdjust="spacingAndGlyphs">$20,000,000</text>
<line x1="126" y1="549.9" x2="521.5" y2="549.9" stroke="#5a5a5a" stroke-width="0.8"/>
<text x="116.5" y="573.82" font-size="7" fill="#c8c8c8" text-anchor="end" textLength="38.7" lengthAdjust="spacingAndGlyphs">$15,000,000</text>
<line x1="126" y1="571.3" x2="521.5" y2="571.3" stroke="#5a5a5a" stroke-width="0.8"/>
<text x="116.5" y="595.25" font-size="7" fill="#c8c8c8" text-anchor="end" textLength="38.7" lengthAdjust="spacingAndGlyphs">$10,000,000</text>
<line x1="126" y1="592.8" x2="521.5" y2="592.8" stroke="#5a5a5a" stroke-width="0.8"/>
<text x="116.5" y="616.6800000000001" font-size="7" fill="#c8c8c8" text-anchor="end" textLength="34" lengthAdjust="spacingAndGlyphs">$5,000,000</text>
<line x1="126" y1="614.2" x2="521.5" y2="614.2" stroke="#5a5a5a" stroke-width="0.8"/>
<text x="116.5" y="638.11" font-size="7" fill="#c8c8c8" text-anchor="end" textLength="6" lengthAdjust="spacingAndGlyphs">$-</text>
<rect x="142.9" y="540.1" width="23" height="95.5" fill="url(#grn)"/>
<rect x="199.4" y="544.2" width="23" height="91.4" fill="url(#grn)"/>
<rect x="202.9" y="534.3" width="16.5" height="101.3" fill="url(#ylw)"/>
<rect x="255.9" y="523.7" width="23" height="111.9" fill="url(#grn)"/>
<rect x="259.4" y="537.8" width="16.5" height="97.8" fill="url(#ylw)"/>
<rect x="315.9" y="516.9" width="16.5" height="118.7" fill="url(#ylw)"/>
<rect x="372.3" y="509.8" width="16.5" height="125.8" fill="url(#ylw)"/>
<rect x="428.8" y="502.3" width="16.5" height="133.3" fill="url(#ylw)"/>
<rect x="485.3" y="494.3" width="16.5" height="141.3" fill="url(#ylw)"/>
<g stroke="#bdbdbd" stroke-width="0.9" fill="none">
<path d="M126.2 636.3 L521.5 636.3 M53.3 648.4 L521.5 648.4 M53.3 661.3 L521.5 661.3 M53.3 674.7 L521.5 674.7 M53.3 648.4 L53.3 674.7"/>
<line x1="126.2" y1="636.3" x2="126.2" y2="674.7"/>
<line x1="182.7" y1="636.3" x2="182.7" y2="674.7"/>
<line x1="239.1" y1="636.3" x2="239.1" y2="674.7"/>
<line x1="295.6" y1="636.3" x2="295.6" y2="674.7"/>
<line x1="352.1" y1="636.3" x2="352.1" y2="674.7"/>
<line x1="408.6" y1="636.3" x2="408.6" y2="674.7"/>
<line x1="465.0" y1="636.3" x2="465.0" y2="674.7"/>
<line x1="521.5" y1="636.3" x2="521.5" y2="674.7"/>
</g>
<text x="154.4" y="644.8" font-size="6.3" fill="#e8e8e8" text-anchor="middle" textLength="13" lengthAdjust="spacingAndGlyphs">2010</text>
<text x="154.4" y="657.3" font-size="6.3" fill="#e8e8e8" text-anchor="middle" textLength="36" lengthAdjust="spacingAndGlyphs">$22,293,455</text>
<text x="154.4" y="670.6" font-size="6.3" fill="#e8e8e8" text-anchor="middle" textLength="6" lengthAdjust="spacingAndGlyphs">$-</text>
<text x="210.9" y="644.8" font-size="6.3" fill="#e8e8e8" text-anchor="middle" textLength="13" lengthAdjust="spacingAndGlyphs">2011</text>
<text x="210.9" y="657.3" font-size="6.3" fill="#e8e8e8" text-anchor="middle" textLength="36" lengthAdjust="spacingAndGlyphs">$21,328,221</text>
<text x="210.9" y="670.6" font-size="6.3" fill="#e8e8e8" text-anchor="middle" textLength="45" lengthAdjust="spacingAndGlyphs">$23,631,062.30</text>
<text x="267.4" y="644.8" font-size="6.3" fill="#e8e8e8" text-anchor="middle" textLength="13" lengthAdjust="spacingAndGlyphs">2012</text>
<text x="267.4" y="657.3" font-size="6.3" fill="#e8e8e8" text-anchor="middle" textLength="36" lengthAdjust="spacingAndGlyphs">$26,121,557</text>
<text x="267.4" y="670.6" font-size="6.3" fill="#e8e8e8" text-anchor="middle" textLength="45" lengthAdjust="spacingAndGlyphs">$22,819,914.26</text>
<text x="323.9" y="644.8" font-size="6.3" fill="#e8e8e8" text-anchor="middle" textLength="13" lengthAdjust="spacingAndGlyphs">2013</text>
<text x="323.9" y="657.3" font-size="6.3" fill="#e8e8e8" text-anchor="middle" textLength="6" lengthAdjust="spacingAndGlyphs">$-</text>
<text x="323.9" y="670.6" font-size="6.3" fill="#e8e8e8" text-anchor="middle" textLength="45" lengthAdjust="spacingAndGlyphs">$27,688,850.42</text>
<text x="380.3" y="644.8" font-size="6.3" fill="#e8e8e8" text-anchor="middle" textLength="13" lengthAdjust="spacingAndGlyphs">2014</text>
<text x="380.3" y="657.3" font-size="6.3" fill="#e8e8e8" text-anchor="middle" textLength="6" lengthAdjust="spacingAndGlyphs">$-</text>
<text x="380.3" y="670.6" font-size="6.3" fill="#e8e8e8" text-anchor="middle" textLength="45" lengthAdjust="spacingAndGlyphs">$29,350,181.45</text>
<text x="436.8" y="644.8" font-size="6.3" fill="#e8e8e8" text-anchor="middle" textLength="13" lengthAdjust="spacingAndGlyphs">2015</text>
<text x="436.8" y="657.3" font-size="6.3" fill="#e8e8e8" text-anchor="middle" textLength="6" lengthAdjust="spacingAndGlyphs">$-</text>
<text x="436.8" y="670.6" font-size="6.3" fill="#e8e8e8" text-anchor="middle" textLength="45" lengthAdjust="spacingAndGlyphs">$31,111,192.33</text>
<text x="493.3" y="644.8" font-size="6.3" fill="#e8e8e8" text-anchor="middle" textLength="13" lengthAdjust="spacingAndGlyphs">2016</text>
<text x="493.3" y="657.3" font-size="6.3" fill="#e8e8e8" text-anchor="middle" textLength="6" lengthAdjust="spacingAndGlyphs">$-</text>
<text x="493.3" y="670.6" font-size="6.3" fill="#e8e8e8" text-anchor="middle" textLength="45" lengthAdjust="spacingAndGlyphs">$32,977,863.87</text>
<rect x="57" y="652.5" width="4" height="4.5" fill="#6cb446"/>
<text x="63" y="657.3" font-size="6.3" fill="#e0e0e0" text-anchor="start" textLength="60" lengthAdjust="spacingAndGlyphs">Actual Yearly Revenue</text>
<rect x="57" y="665.7" width="4" height="4.5" fill="#ffc820"/>
<text x="63" y="670.6" font-size="6.3" fill="#e0e0e0" text-anchor="start" textLength="36" lengthAdjust="spacingAndGlyphs">Revenue Goal</text>
<rect x="209.5" y="687.7" width="4.5" height="4.5" fill="#6cb446"/>
<text x="216.5" y="692.7" font-size="7.5" fill="#d4d4d4" text-anchor="start" textLength="78.3" lengthAdjust="spacingAndGlyphs">Actual Yearly Revenue</text>
<rect x="307" y="687.7" width="4.5" height="4.5" fill="#ffc820"/>
<text x="315" y="692.7" font-size="7.5" fill="#d4d4d4" text-anchor="start" textLength="48.8" lengthAdjust="spacingAndGlyphs">Revenue Goal</text>
<text x="40" y="678.2" font-size="10" fill="#ffffff" text-anchor="start" textLength="19" lengthAdjust="spacingAndGlyphs">blog</text>
<rect x="530.5" y="444.4" width="587" height="262.4" fill="#f4f4f4" stroke="#d8d8d8" stroke-width="1"/>
<text x="786.9" y="471.8" font-size="15.2" fill="#484848" font-weight="bold" text-anchor="middle" textLength="329.6" lengthAdjust="spacingAndGlyphs">Online Channel Revenue v.s Goal for Online Channel</text>
<text x="580.7" y="490.59999999999997" font-size="6.5" fill="#404040" text-anchor="end" textLength="42.4" lengthAdjust="spacingAndGlyphs">$25,000,000</text>
<line x1="592.2" y1="488.2" x2="1106.3" y2="488.2" stroke="#d4d4d4" stroke-width="1"/>
<text x="580.7" y="523.77" font-size="6.5" fill="#404040" text-anchor="end" textLength="42.4" lengthAdjust="spacingAndGlyphs">$20,000,000</text>
<line x1="592.2" y1="521.4" x2="1106.3" y2="521.4" stroke="#d4d4d4" stroke-width="1"/>
<text x="580.7" y="556.9399999999999" font-size="6.5" fill="#404040" text-anchor="end" textLength="42.4" lengthAdjust="spacingAndGlyphs">$15,000,000</text>
<line x1="592.2" y1="554.5" x2="1106.3" y2="554.5" stroke="#d4d4d4" stroke-width="1"/>
<text x="580.7" y="590.11" font-size="6.5" fill="#404040" text-anchor="end" textLength="42.4" lengthAdjust="spacingAndGlyphs">$10,000,000</text>
<line x1="592.2" y1="587.7" x2="1106.3" y2="587.7" stroke="#d4d4d4" stroke-width="1"/>
<text x="580.7" y="623.28" font-size="6.5" fill="#404040" text-anchor="end" textLength="38" lengthAdjust="spacingAndGlyphs">$5,000,000</text>
<line x1="592.2" y1="620.9" x2="1106.3" y2="620.9" stroke="#d4d4d4" stroke-width="1"/>
<text x="580.7" y="656.4499999999999" font-size="6.5" fill="#404040" text-anchor="end" textLength="6" lengthAdjust="spacingAndGlyphs">$-</text>
<line x1="592.2" y1="654.0" x2="1106.3" y2="654.0" stroke="#d4d4d4" stroke-width="1"/>
<rect x="616.5" y="575.1" width="23.1" height="78.9" fill="url(#org9)"/>
<rect x="690.4" y="579.8" width="23.6" height="74.2" fill="url(#org9)"/>
<rect x="764.3" y="564.3" width="23.7" height="89.7" fill="url(#org9)"/>
<polyline points="628,575.6 702.2,568 775.4,572 849.2,554.8 922.8,544 996.4,533.4 1070,522.4" fill="none" stroke="#46709e" stroke-width="4.4" stroke-linejoin="round" stroke-linecap="round"/>
<polyline points="628,575.6 702.2,568 775.4,572 849.2,554.8 922.8,544 996.4,533.4 1070,522.4" fill="none" stroke="#6192c8" stroke-width="2.6" stroke-linejoin="round" stroke-linecap="round"/>
<text x="629.0" y="670.5" font-size="7" fill="#404040" text-anchor="middle" textLength="15" lengthAdjust="spacingAndGlyphs">2010</text>
<text x="702.5" y="670.5" font-size="7" fill="#404040" text-anchor="middle" textLength="15" lengthAdjust="spacingAndGlyphs">2011</text>
<text x="776.0" y="670.5" font-size="7" fill="#404040" text-anchor="middle" textLength="15" lengthAdjust="spacingAndGlyphs">2012</text>
<text x="849.5" y="670.5" font-size="7" fill="#404040" text-anchor="middle" textLength="15" lengthAdjust="spacingAndGlyphs">2013</text>
<text x="923.0" y="670.5" font-size="7" fill="#404040" text-anchor="middle" textLength="15" lengthAdjust="spacingAndGlyphs">2014</text>
<text x="996.5" y="670.5" font-size="7" fill="#404040" text-anchor="middle" textLength="15" lengthAdjust="spacingAndGlyphs">2015</text>
<text x="1070.0" y="670.5" font-size="7" fill="#404040" text-anchor="middle" textLength="15" lengthAdjust="spacingAndGlyphs">2016</text>
<rect x="558.6" y="686" width="7.4" height="7.4" fill="#fff" stroke="#111" stroke-width="1.3"/>
<path d="M560 689.3 L561.8 691.6 L564.9 687.3" fill="none" stroke="#111" stroke-width="1.7"/>
<text x="569" y="692.5" font-size="7.6" fill="#333" text-anchor="start" textLength="81" lengthAdjust="spacingAndGlyphs">Goal for Online Channel</text>
<rect x="869.6" y="691.5" width="18" height="3" fill="#e8782e"/>
<text x="890.6" y="695.5" font-size="7" fill="#404040" text-anchor="start" textLength="81" lengthAdjust="spacingAndGlyphs">Online Revenue to date</text>
<rect x="1013" y="691.5" width="21.3" height="3" fill="#6192c8"/>
<text x="1034.5" y="695.5" font-size="7" fill="#404040" text-anchor="start" textLength="15.5" lengthAdjust="spacingAndGlyphs">Goal</text>
</svg></body></html>
